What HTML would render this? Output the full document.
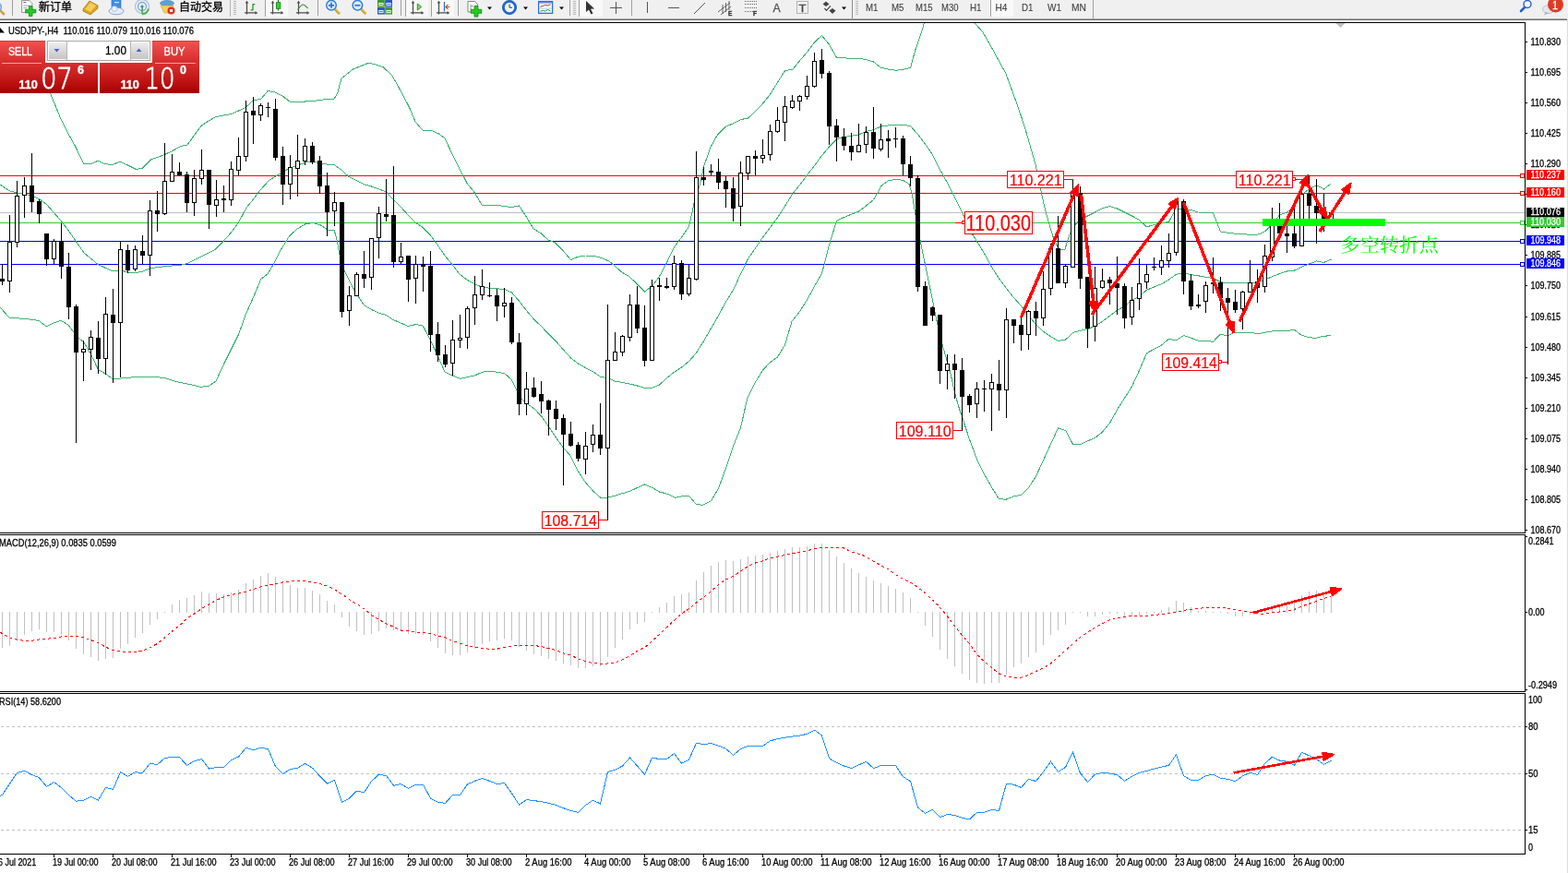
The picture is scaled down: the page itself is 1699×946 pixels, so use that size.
<!DOCTYPE html>
<html lang="zh"><head><meta charset="utf-8"><title>USDJPY H4</title>
<style>html,body{margin:0;padding:0;background:#fff;overflow:hidden}svg{display:block}text{white-space:pre}</style></head>
<body>
<svg width="1699" height="946" viewBox="0 0 1699 946" font-family='"Liberation Sans","Noto Sans CJK SC",sans-serif' shape-rendering="crispEdges">
<defs><clipPath id="cm"><rect x="0" y="25" width="1652" height="552"/></clipPath><clipPath id="cd"><rect x="0" y="580" width="1652" height="169"/></clipPath><clipPath id="cr"><rect x="0" y="752" width="1652" height="173"/></clipPath><linearGradient id="gs" x1="0" y1="0" x2="0" y2="1"><stop offset="0" stop-color="#f35252"/><stop offset="1" stop-color="#d42a2a"/></linearGradient><linearGradient id="gp" x1="0" y1="0" x2="0" y2="1"><stop offset="0" stop-color="#d83030"/><stop offset="0.6" stop-color="#bf1414"/><stop offset="1" stop-color="#a60000"/></linearGradient><linearGradient id="gb" x1="0" y1="0" x2="0" y2="1"><stop offset="0" stop-color="#eeeeee"/><stop offset="1" stop-color="#c4c4c4"/></linearGradient></defs>
<rect x="0" y="0" width="1699" height="946" fill="#fff" />
<rect x="0" y="24" width="1653" height="1" fill="#000" />
<rect x="1652" y="24" width="1" height="554" fill="#000" />
<rect x="0" y="577" width="1653" height="1" fill="#000" />
<rect x="0" y="579" width="1653" height="1" fill="#000" />
<rect x="1652" y="579" width="1" height="171" fill="#000" />
<rect x="0" y="749" width="1653" height="1" fill="#000" />
<rect x="0" y="751" width="1653" height="1" fill="#000" />
<rect x="1652" y="751" width="1" height="175" fill="#000" />
<rect x="0" y="925" width="1653" height="1" fill="#000" />
<rect x="1697" y="22" width="1" height="924" fill="#fbfbfb" />
<rect x="1698" y="21" width="1" height="925" fill="#dedede" />
<rect x="0" y="230" width="1652" height="1" fill="#c0c0c0" />
<rect x="0" y="190" width="1652" height="1" fill="#ff0000" />
<rect x="0" y="209" width="1652" height="1" fill="#ff0000" />
<rect x="0" y="241" width="1652" height="1" fill="#32cd32" />
<rect x="0" y="261" width="1652" height="1" fill="#0000ff" />
<rect x="0" y="286" width="1652" height="1" fill="#0000ff" />
<g clip-path="url(#cm)">
<polyline points="40,60 55.3,103 65.4,127.7 74.2,145.3 81.8,159 90.6,177.4 99.4,177.4 106.3,174.2 113.2,177.4 121.4,178.6 130.2,175.2 138.5,179 147.2,183.4 154,182.4 163.5,173 170.5,170.5 178.6,167.5 186.5,163.6 196,158.5 203,157 210.5,146.5 218.5,136 226,131 234,126.5 242,125 250.5,123.5 258.5,120 266,116.5 274,109.3 283,107 290,98.5 298,100 306,104 314,110 330.5,110 340,109.5 351.6,107.8 362,107.4 366,100 370,85 382.5,75 400,68 415,72.5 425,82 435.3,100.5 443.8,117 450,131.8 458,141.3 467,141.3 475.6,145 482,149.8 490.4,167.8 499,184.7 506,198.5 513.7,208 522,222 537,222 543,223 554,224.6 562.5,223 570,234.5 578,248 585.8,252.5 594,260 601.6,263 610,271.6 618.6,281.6 626,278.4 634.5,277 643,277 651.4,279.5 660,283 666,288 673.7,295 681,299 688.5,306 698.4,316 706.5,310.2 714.5,299.6 722.4,284.7 730.4,267.8 738.5,257.2 746.5,245.5 751,225.4 753,215 758.4,199.5 762.6,180.4 770,159.2 777.5,146 786,137.4 794.4,133.8 802.5,129.6 810.7,128 818.8,120 826.2,112.6 834.4,102.5 842.5,89.3 850.5,76.6 859,75 866.4,66 874.5,56.5 882.5,45.9 890.4,38.5 898.4,48 906.5,62.4 914.5,62.8 922.4,63.5 930.4,63.5 938.5,64.5 946.5,67 954.6,73.4 962.4,75 970.5,76.2 978.5,75.5 986.6,73.4 991.4,55.4 1000,30 1004,15 1020,-40 1040,-40 1052,15 1056.2,25 1065,35 1075,52.5 1082.5,66.2 1090,80 1095,93.7 1100,107.5 1106.2,125 1112.5,145 1117.5,162.5 1122.5,180 1127.5,205 1132.5,227.5 1137.5,245 1141,256.5 1147,270 1154,270 1157.7,257.5 1162.5,246 1170.5,238 1178.5,234 1186.5,230 1194.4,225.7 1202.4,223.6 1210.5,226 1218.5,230 1226.6,234 1234.4,238.4 1242.5,245.8 1250.5,243.7 1258.4,241.6 1266.4,240.5 1274.4,225.7 1282.5,226.7 1290.6,227.4 1298.4,230 1306.4,230.5 1314.5,231 1322.5,251 1330.4,252.2 1338.4,253.2 1346.5,253.6 1354.5,254.3 1362.6,254.3 1370.4,251 1377,244.7 1386.5,233 1394.5,230 1402.6,223.6 1410.4,210.8 1418.4,205 1426.5,200.7 1434.5,205 1442.4,198.8" fill="none" stroke="#3cb371" stroke-width="1" />
<polyline points="0,200 10.6,207 19,209 35,212 42.4,215.5 51,222 66.7,240 74.6,250.4 91,274 106,286.4 122,294 130,293 139,295 146,296 154.7,294 163,290.7 179,288.6 197,287 203.4,285.4 218,278 233,270.6 241.5,262 250,252.5 258.5,241 267,225 274,216.5 282,206 292,195 299,191 307,186 314.6,181.6 322,179.5 330.5,176 339,175 347.5,177 354,178 362,178.4 369.7,184 378,191.5 386.6,195.8 394.7,200 402.5,202 411,205 418.4,208 426.4,216.5 434,224 442,232.8 450,241 457.6,246 467,255.7 474.5,266 482,277 490.4,287 497.8,297 506.3,303.3 514.4,308 522,311 530.7,312.2 539,312.8 546.6,313.5 554.4,317 562.5,326.2 571,337.2 578.3,345.7 586.8,354 594.2,361.6 602.7,370 610,378.5 618.6,388 627,394.4 634.5,398.6 643,403 650.4,408.2 659,409.7 666.3,413 674.7,414.5 683.2,416.2 691.7,418.3 698.4,420.3 706.5,420.3 714.5,417 722.4,409.7 730.4,403.3 738.5,398 746.5,391.5 754.6,382.2 762.6,369.5 770.5,355.7 778.5,342 786.6,327 794.4,314.4 802.5,297 810.5,280.5 818.6,268.9 826.4,257.2 834.4,246.6 842.5,236 850.6,223.3 858.4,210.6 866.4,200.5 874.5,190 882.5,179.4 890.4,168.8 898.4,159.2 906.5,150.8 914.5,148.6 922.4,147.2 930.4,146 938.5,142.3 946.5,140.8 954.6,137 962.4,136 970.5,135.3 978.5,135.3 986.6,136.6 994.4,145.5 1002.5,156 1010.5,167.7 1019,184.7 1026.4,198 1034.4,214 1042.5,230 1050.5,249 1058.6,261.7 1066.4,274.4 1074.4,289.2 1082.5,302 1090.5,312.5 1098.4,322.5 1106.4,331.5 1114.5,341.7 1122.5,351.8 1130.4,359.2 1138.4,364.6 1146.5,369.3 1154.5,368.2 1162.4,360.4 1170.4,358.3 1178.5,356.5 1186.5,353.5 1194.4,348.4 1202.4,342.3 1210.5,336.4 1218.5,331.5 1226.6,325.3 1234.4,321.1 1242.5,314.2 1250.5,311 1258.4,307.8 1266.4,303.1 1274.4,297.3 1282.5,295.6 1290.6,297.7 1298.4,298.8 1306.4,300.3 1314.5,301.5 1322.5,305.5 1330.4,307 1338.4,306.8 1346.5,307 1354.5,306.6 1362.6,305.7 1370.5,303.2 1378.4,299.8 1386.5,296.6 1394.5,294 1402.6,293 1410.4,289.2 1418.4,286 1426.5,282.9 1434.5,284.4 1442.4,281.2" fill="none" stroke="#3cb371" stroke-width="1" />
<polyline points="0,333 10,344 21,345 32,346 42,347.4 50.4,354 58,350 66,347.4 74,352 79.5,359.5 86,367 91,371 98.5,384 106.6,400.8 114.4,405 122.5,411 131,410 142,409 150.4,408 165,408 180,410 190.7,413.5 203.4,416 218,419.4 226.7,418 234,413 242.6,394.4 250,379.6 258.5,362.6 266,341.4 274.4,322.4 283,302 290,297 295.6,287.5 305,269.5 313.6,255.7 322,248 330.5,243 339,241.5 347.5,244 355,249 362,249 365.4,261 367.5,273.7 370.7,288.5 374,295 378,303.3 386.6,319.2 394.7,330.8 402.5,335.5 410.6,339.3 418.4,341.4 426.4,346.7 434.3,350 442.3,353.5 450.2,351.6 458.2,353 466.5,369 474.5,386 482,402.9 490.4,407 498.5,410.3 506.5,408.6 514.4,407 522.2,403.3 530.7,402.2 539,403.3 546.6,404.6 554.4,411.4 559.3,422 564.6,431.6 571,437.4 578.3,442.5 586.8,451.2 594.2,461.8 602.7,474.5 610,484.7 617.5,493.2 626,510 634.5,523 643,532.4 650.4,539 659,539 666.3,537.3 674.7,534.5 682,532.6 691.7,528 698.4,525 706.5,528.3 714.5,533 722.4,535 732,539.3 738.5,537.8 746.5,537.2 754,546.3 761.6,547.4 770.5,542.7 778.5,529.4 786.6,507 794.4,483.8 802.5,463.7 807,443.6 809.7,432 818.6,414 826.4,401.2 834.4,392.7 842.5,387 850.6,373.7 858,348.3 866.4,337.7 874.5,325 882.5,310.2 890.4,296.4 893.3,285.8 898.4,265.7 906.5,239.2 914.5,235.6 922.4,232.2 930.4,229.2 938.5,222.9 946.5,216.5 951.2,208.3 954.6,201.8 962.4,195.9 970.5,194.2 978.5,195.3 985,199.5 988.3,210.3 991.4,229.7 994.4,246.6 997.8,263.6 1002.5,286.9 1007.3,310.2 1010.5,325 1014.7,346.2 1018.5,363 1022,377 1026.4,392 1029.6,403 1034.4,425 1038.5,440 1042.5,451.8 1050.3,475.5 1058.5,497.7 1066.6,514 1074.5,528 1082.2,540.3 1089.6,541.4 1098.4,538 1106.6,536.2 1114.7,528.4 1122,517 1130.3,499.2 1138.4,481.4 1146.5,464 1154.7,466.6 1162.5,481.4 1171,481.4 1179,477.7 1187.2,474 1194.6,468 1202.8,457.8 1210.5,444 1218.5,431.4 1226.6,418.6 1234.4,401.7 1242.5,382.6 1250.5,378.4 1258.4,374.2 1266.4,367.4 1274.4,368.9 1282.5,363.6 1290.6,366.3 1298.4,369.3 1306.4,369.3 1314.5,370.3 1322.2,362.3 1330.2,363.9 1337,360.7 1346.5,360.5 1358.3,360.5 1359.9,361.5 1365.7,361.3 1374,359.7 1382,358.4 1397.5,358.4 1399,357.5 1402.8,357.5 1410.2,363.4 1417.6,365.3 1425,366.5 1432.4,364.7 1442,363.4" fill="none" stroke="#3cb371" stroke-width="1" />
</g>
<g clip-path="url(#cm)">
<rect x="2" y="286" width="1" height="23" fill="#000" />
<rect x="0" y="302" width="5" height="3" fill="#000" />
<rect x="10" y="233" width="1" height="84" fill="#000" />
<rect x="8" y="262" width="5" height="43" fill="#000" />
<rect x="9" y="263" width="3" height="41" fill="#fff" />
<rect x="18" y="196" width="1" height="72" fill="#000" />
<rect x="16" y="212" width="5" height="51" fill="#000" />
<rect x="17" y="213" width="3" height="49" fill="#fff" />
<rect x="26" y="192" width="1" height="44" fill="#000" />
<rect x="24" y="201" width="5" height="11" fill="#000" />
<rect x="25" y="202" width="3" height="9" fill="#fff" />
<rect x="34" y="166" width="1" height="64" fill="#000" />
<rect x="32" y="201" width="5" height="18" fill="#000" />
<rect x="42" y="216" width="1" height="26" fill="#000" />
<rect x="40" y="218" width="5" height="14" fill="#000" />
<rect x="50" y="253" width="1" height="35" fill="#000" />
<rect x="48" y="253" width="5" height="28" fill="#000" />
<rect x="58" y="259" width="1" height="27" fill="#000" />
<rect x="56" y="261" width="5" height="20" fill="#000" />
<rect x="57" y="262" width="3" height="18" fill="#fff" />
<rect x="66" y="242" width="1" height="60" fill="#000" />
<rect x="64" y="261" width="5" height="28" fill="#000" />
<rect x="74" y="274" width="1" height="72" fill="#000" />
<rect x="72" y="289" width="5" height="44" fill="#000" />
<rect x="82" y="330" width="1" height="150" fill="#000" />
<rect x="80" y="332" width="5" height="50" fill="#000" />
<rect x="90" y="369" width="1" height="44" fill="#000" />
<rect x="88" y="378" width="5" height="4" fill="#000" />
<rect x="89" y="379" width="3" height="2" fill="#fff" />
<rect x="98" y="358" width="1" height="43" fill="#000" />
<rect x="96" y="365" width="5" height="14" fill="#000" />
<rect x="97" y="366" width="3" height="12" fill="#fff" />
<rect x="106" y="348" width="1" height="57" fill="#000" />
<rect x="104" y="366" width="5" height="23" fill="#000" />
<rect x="114" y="322" width="1" height="84" fill="#000" />
<rect x="112" y="340" width="5" height="49" fill="#000" />
<rect x="113" y="341" width="3" height="47" fill="#fff" />
<rect x="122" y="313" width="1" height="102" fill="#000" />
<rect x="120" y="341" width="5" height="9" fill="#000" />
<rect x="130" y="261" width="1" height="148" fill="#000" />
<rect x="128" y="270" width="5" height="80" fill="#000" />
<rect x="129" y="271" width="3" height="78" fill="#fff" />
<rect x="138" y="265" width="1" height="31" fill="#000" />
<rect x="136" y="271" width="5" height="22" fill="#000" />
<rect x="146" y="266" width="1" height="28" fill="#000" />
<rect x="144" y="270" width="5" height="22" fill="#000" />
<rect x="145" y="271" width="3" height="20" fill="#fff" />
<rect x="154" y="255" width="1" height="31" fill="#000" />
<rect x="152" y="272" width="5" height="5" fill="#000" />
<rect x="162" y="217" width="1" height="82" fill="#000" />
<rect x="160" y="228" width="5" height="49" fill="#000" />
<rect x="161" y="229" width="3" height="47" fill="#fff" />
<rect x="170" y="207" width="1" height="44" fill="#000" />
<rect x="168" y="228" width="5" height="4" fill="#000" />
<rect x="178" y="155" width="1" height="78" fill="#000" />
<rect x="176" y="196" width="5" height="36" fill="#000" />
<rect x="177" y="197" width="3" height="34" fill="#fff" />
<rect x="186" y="167" width="1" height="30" fill="#000" />
<rect x="184" y="186" width="5" height="11" fill="#000" />
<rect x="185" y="187" width="3" height="9" fill="#fff" />
<rect x="194" y="176" width="1" height="15" fill="#000" />
<rect x="192" y="186" width="5" height="4" fill="#000" />
<rect x="202" y="186" width="1" height="44" fill="#000" />
<rect x="200" y="189" width="5" height="31" fill="#000" />
<rect x="210" y="184" width="1" height="50" fill="#000" />
<rect x="208" y="193" width="5" height="27" fill="#000" />
<rect x="209" y="194" width="3" height="25" fill="#fff" />
<rect x="218" y="162" width="1" height="38" fill="#000" />
<rect x="216" y="184" width="5" height="10" fill="#000" />
<rect x="217" y="185" width="3" height="8" fill="#fff" />
<rect x="226" y="184" width="1" height="64" fill="#000" />
<rect x="224" y="184" width="5" height="38" fill="#000" />
<rect x="234" y="195" width="1" height="40" fill="#000" />
<rect x="232" y="216" width="5" height="7" fill="#000" />
<rect x="233" y="217" width="3" height="5" fill="#fff" />
<rect x="242" y="201" width="1" height="29" fill="#000" />
<rect x="240" y="215" width="5" height="2" fill="#000" />
<rect x="250" y="175" width="1" height="48" fill="#000" />
<rect x="248" y="183" width="5" height="34" fill="#000" />
<rect x="249" y="184" width="3" height="32" fill="#fff" />
<rect x="258" y="149" width="1" height="41" fill="#000" />
<rect x="256" y="169" width="5" height="16" fill="#000" />
<rect x="257" y="170" width="3" height="14" fill="#fff" />
<rect x="266" y="109" width="1" height="66" fill="#000" />
<rect x="264" y="121" width="5" height="49" fill="#000" />
<rect x="265" y="122" width="3" height="47" fill="#fff" />
<rect x="274" y="105" width="1" height="51" fill="#000" />
<rect x="272" y="120" width="5" height="5" fill="#000" />
<rect x="282" y="112" width="1" height="19" fill="#000" />
<rect x="280" y="114" width="5" height="11" fill="#000" />
<rect x="281" y="115" width="3" height="9" fill="#fff" />
<rect x="290" y="111" width="1" height="16" fill="#000" />
<rect x="288" y="116" width="5" height="1" fill="#000" />
<rect x="298" y="107" width="1" height="67" fill="#000" />
<rect x="296" y="118" width="5" height="53" fill="#000" />
<rect x="306" y="159" width="1" height="63" fill="#000" />
<rect x="304" y="169" width="5" height="31" fill="#000" />
<rect x="314" y="168" width="1" height="48" fill="#000" />
<rect x="312" y="181" width="5" height="19" fill="#000" />
<rect x="313" y="182" width="3" height="17" fill="#fff" />
<rect x="322" y="146" width="1" height="67" fill="#000" />
<rect x="320" y="174" width="5" height="9" fill="#000" />
<rect x="321" y="175" width="3" height="7" fill="#fff" />
<rect x="330" y="150" width="1" height="29" fill="#000" />
<rect x="328" y="158" width="5" height="17" fill="#000" />
<rect x="329" y="159" width="3" height="15" fill="#fff" />
<rect x="338" y="154" width="1" height="24" fill="#000" />
<rect x="336" y="158" width="5" height="18" fill="#000" />
<rect x="346" y="169" width="1" height="41" fill="#000" />
<rect x="344" y="174" width="5" height="28" fill="#000" />
<rect x="354" y="187" width="1" height="69" fill="#000" />
<rect x="352" y="201" width="5" height="29" fill="#000" />
<rect x="362" y="208" width="1" height="37" fill="#000" />
<rect x="360" y="219" width="5" height="10" fill="#000" />
<rect x="361" y="220" width="3" height="8" fill="#fff" />
<rect x="370" y="219" width="1" height="125" fill="#000" />
<rect x="368" y="219" width="5" height="119" fill="#000" />
<rect x="378" y="310" width="1" height="43" fill="#000" />
<rect x="376" y="320" width="5" height="17" fill="#000" />
<rect x="377" y="321" width="3" height="15" fill="#fff" />
<rect x="386" y="295" width="1" height="26" fill="#000" />
<rect x="384" y="297" width="5" height="24" fill="#000" />
<rect x="385" y="298" width="3" height="22" fill="#fff" />
<rect x="394" y="272" width="1" height="40" fill="#000" />
<rect x="392" y="297" width="5" height="5" fill="#000" />
<rect x="402" y="258" width="1" height="56" fill="#000" />
<rect x="400" y="258" width="5" height="43" fill="#000" />
<rect x="401" y="259" width="3" height="41" fill="#fff" />
<rect x="410" y="224" width="1" height="56" fill="#000" />
<rect x="408" y="231" width="5" height="27" fill="#000" />
<rect x="409" y="232" width="3" height="25" fill="#fff" />
<rect x="418" y="194" width="1" height="46" fill="#000" />
<rect x="416" y="232" width="5" height="3" fill="#000" />
<rect x="426" y="180" width="1" height="110" fill="#000" />
<rect x="424" y="233" width="5" height="51" fill="#000" />
<rect x="434" y="263" width="1" height="23" fill="#000" />
<rect x="432" y="278" width="5" height="6" fill="#000" />
<rect x="433" y="279" width="3" height="4" fill="#fff" />
<rect x="442" y="277" width="1" height="50" fill="#000" />
<rect x="440" y="277" width="5" height="26" fill="#000" />
<rect x="450" y="277" width="1" height="52" fill="#000" />
<rect x="448" y="286" width="5" height="16" fill="#000" />
<rect x="449" y="287" width="3" height="14" fill="#fff" />
<rect x="458" y="278" width="1" height="38" fill="#000" />
<rect x="456" y="286" width="5" height="3" fill="#000" />
<rect x="466" y="272" width="1" height="109" fill="#000" />
<rect x="464" y="288" width="5" height="75" fill="#000" />
<rect x="474" y="349" width="1" height="43" fill="#000" />
<rect x="472" y="362" width="5" height="23" fill="#000" />
<rect x="482" y="374" width="1" height="24" fill="#000" />
<rect x="480" y="384" width="5" height="11" fill="#000" />
<rect x="490" y="347" width="1" height="60" fill="#000" />
<rect x="488" y="368" width="5" height="26" fill="#000" />
<rect x="489" y="369" width="3" height="24" fill="#fff" />
<rect x="498" y="341" width="1" height="36" fill="#000" />
<rect x="496" y="366" width="5" height="3" fill="#000" />
<rect x="497" y="367" width="3" height="1" fill="#fff" />
<rect x="506" y="332" width="1" height="46" fill="#000" />
<rect x="504" y="334" width="5" height="32" fill="#000" />
<rect x="505" y="335" width="3" height="30" fill="#fff" />
<rect x="514" y="299" width="1" height="53" fill="#000" />
<rect x="512" y="319" width="5" height="15" fill="#000" />
<rect x="513" y="320" width="3" height="13" fill="#fff" />
<rect x="522" y="292" width="1" height="33" fill="#000" />
<rect x="520" y="310" width="5" height="10" fill="#000" />
<rect x="521" y="311" width="3" height="8" fill="#fff" />
<rect x="530" y="306" width="1" height="16" fill="#000" />
<rect x="528" y="320" width="5" height="1" fill="#000" />
<rect x="538" y="313" width="1" height="35" fill="#000" />
<rect x="536" y="320" width="5" height="12" fill="#000" />
<rect x="546" y="312" width="1" height="32" fill="#000" />
<rect x="544" y="328" width="5" height="4" fill="#000" />
<rect x="545" y="329" width="3" height="2" fill="#fff" />
<rect x="554" y="322" width="1" height="51" fill="#000" />
<rect x="552" y="328" width="5" height="43" fill="#000" />
<rect x="562" y="361" width="1" height="89" fill="#000" />
<rect x="560" y="371" width="5" height="67" fill="#000" />
<rect x="570" y="403" width="1" height="47" fill="#000" />
<rect x="568" y="421" width="5" height="17" fill="#000" />
<rect x="569" y="422" width="3" height="15" fill="#fff" />
<rect x="578" y="409" width="1" height="22" fill="#000" />
<rect x="576" y="420" width="5" height="10" fill="#000" />
<rect x="586" y="413" width="1" height="35" fill="#000" />
<rect x="584" y="427" width="5" height="8" fill="#000" />
<rect x="594" y="433" width="1" height="39" fill="#000" />
<rect x="592" y="434" width="5" height="10" fill="#000" />
<rect x="602" y="434" width="1" height="32" fill="#000" />
<rect x="600" y="443" width="5" height="11" fill="#000" />
<rect x="610" y="449" width="1" height="77" fill="#000" />
<rect x="608" y="453" width="5" height="18" fill="#000" />
<rect x="618" y="457" width="1" height="27" fill="#000" />
<rect x="616" y="470" width="5" height="13" fill="#000" />
<rect x="626" y="479" width="1" height="21" fill="#000" />
<rect x="624" y="482" width="5" height="15" fill="#000" />
<rect x="634" y="468" width="1" height="46" fill="#000" />
<rect x="632" y="483" width="5" height="15" fill="#000" />
<rect x="633" y="484" width="3" height="13" fill="#fff" />
<rect x="642" y="460" width="1" height="30" fill="#000" />
<rect x="640" y="471" width="5" height="11" fill="#000" />
<rect x="641" y="472" width="3" height="9" fill="#fff" />
<rect x="650" y="437" width="1" height="56" fill="#000" />
<rect x="648" y="471" width="5" height="15" fill="#000" />
<rect x="658" y="330" width="1" height="234" fill="#000" />
<rect x="656" y="390" width="5" height="96" fill="#000" />
<rect x="657" y="391" width="3" height="94" fill="#fff" />
<rect x="666" y="360" width="1" height="31" fill="#000" />
<rect x="664" y="381" width="5" height="10" fill="#000" />
<rect x="665" y="382" width="3" height="8" fill="#fff" />
<rect x="674" y="363" width="1" height="23" fill="#000" />
<rect x="672" y="364" width="5" height="18" fill="#000" />
<rect x="673" y="365" width="3" height="16" fill="#fff" />
<rect x="682" y="319" width="1" height="51" fill="#000" />
<rect x="680" y="330" width="5" height="36" fill="#000" />
<rect x="681" y="331" width="3" height="34" fill="#fff" />
<rect x="690" y="310" width="1" height="51" fill="#000" />
<rect x="688" y="330" width="5" height="26" fill="#000" />
<rect x="698" y="331" width="1" height="66" fill="#000" />
<rect x="696" y="355" width="5" height="36" fill="#000" />
<rect x="706" y="303" width="1" height="88" fill="#000" />
<rect x="704" y="310" width="5" height="81" fill="#000" />
<rect x="705" y="311" width="3" height="79" fill="#fff" />
<rect x="714" y="301" width="1" height="25" fill="#000" />
<rect x="712" y="309" width="5" height="2" fill="#000" />
<rect x="722" y="301" width="1" height="12" fill="#000" />
<rect x="720" y="310" width="5" height="2" fill="#000" />
<rect x="730" y="277" width="1" height="37" fill="#000" />
<rect x="728" y="285" width="5" height="26" fill="#000" />
<rect x="729" y="286" width="3" height="24" fill="#fff" />
<rect x="738" y="282" width="1" height="43" fill="#000" />
<rect x="736" y="285" width="5" height="34" fill="#000" />
<rect x="746" y="287" width="1" height="34" fill="#000" />
<rect x="744" y="301" width="5" height="18" fill="#000" />
<rect x="745" y="302" width="3" height="16" fill="#fff" />
<rect x="754" y="164" width="1" height="140" fill="#000" />
<rect x="752" y="192" width="5" height="111" fill="#000" />
<rect x="753" y="193" width="3" height="109" fill="#fff" />
<rect x="762" y="181" width="1" height="20" fill="#000" />
<rect x="760" y="192" width="5" height="3" fill="#000" />
<rect x="770" y="178" width="1" height="12" fill="#000" />
<rect x="768" y="185" width="5" height="2" fill="#000" />
<rect x="778" y="172" width="1" height="33" fill="#000" />
<rect x="776" y="186" width="5" height="12" fill="#000" />
<rect x="786" y="191" width="1" height="34" fill="#000" />
<rect x="784" y="196" width="5" height="9" fill="#000" />
<rect x="794" y="192" width="1" height="48" fill="#000" />
<rect x="792" y="204" width="5" height="22" fill="#000" />
<rect x="802" y="175" width="1" height="70" fill="#000" />
<rect x="800" y="187" width="5" height="37" fill="#000" />
<rect x="801" y="188" width="3" height="35" fill="#fff" />
<rect x="810" y="169" width="1" height="26" fill="#000" />
<rect x="808" y="169" width="5" height="19" fill="#000" />
<rect x="809" y="170" width="3" height="17" fill="#fff" />
<rect x="818" y="163" width="1" height="27" fill="#000" />
<rect x="816" y="169" width="5" height="3" fill="#000" />
<rect x="826" y="151" width="1" height="26" fill="#000" />
<rect x="824" y="168" width="5" height="4" fill="#000" />
<rect x="825" y="169" width="3" height="2" fill="#fff" />
<rect x="834" y="135" width="1" height="39" fill="#000" />
<rect x="832" y="142" width="5" height="26" fill="#000" />
<rect x="833" y="143" width="3" height="24" fill="#fff" />
<rect x="842" y="116" width="1" height="28" fill="#000" />
<rect x="840" y="130" width="5" height="13" fill="#000" />
<rect x="841" y="131" width="3" height="11" fill="#fff" />
<rect x="850" y="104" width="1" height="49" fill="#000" />
<rect x="848" y="115" width="5" height="18" fill="#000" />
<rect x="849" y="116" width="3" height="16" fill="#fff" />
<rect x="858" y="103" width="1" height="15" fill="#000" />
<rect x="856" y="109" width="5" height="8" fill="#000" />
<rect x="857" y="110" width="3" height="6" fill="#fff" />
<rect x="866" y="103" width="1" height="17" fill="#000" />
<rect x="864" y="104" width="5" height="6" fill="#000" />
<rect x="865" y="105" width="3" height="4" fill="#fff" />
<rect x="874" y="82" width="1" height="26" fill="#000" />
<rect x="872" y="93" width="5" height="12" fill="#000" />
<rect x="873" y="94" width="3" height="10" fill="#fff" />
<rect x="882" y="57" width="1" height="38" fill="#000" />
<rect x="880" y="66" width="5" height="28" fill="#000" />
<rect x="881" y="67" width="3" height="26" fill="#fff" />
<rect x="890" y="53" width="1" height="32" fill="#000" />
<rect x="888" y="65" width="5" height="15" fill="#000" />
<rect x="898" y="77" width="1" height="80" fill="#000" />
<rect x="896" y="79" width="5" height="58" fill="#000" />
<rect x="906" y="129" width="1" height="46" fill="#000" />
<rect x="904" y="136" width="5" height="13" fill="#000" />
<rect x="914" y="139" width="1" height="24" fill="#000" />
<rect x="912" y="148" width="5" height="10" fill="#000" />
<rect x="922" y="144" width="1" height="30" fill="#000" />
<rect x="920" y="158" width="5" height="7" fill="#000" />
<rect x="930" y="134" width="1" height="31" fill="#000" />
<rect x="928" y="157" width="5" height="8" fill="#000" />
<rect x="929" y="158" width="3" height="6" fill="#fff" />
<rect x="938" y="137" width="1" height="29" fill="#000" />
<rect x="936" y="143" width="5" height="14" fill="#000" />
<rect x="937" y="144" width="3" height="12" fill="#fff" />
<rect x="946" y="116" width="1" height="56" fill="#000" />
<rect x="944" y="143" width="5" height="18" fill="#000" />
<rect x="954" y="134" width="1" height="30" fill="#000" />
<rect x="952" y="151" width="5" height="11" fill="#000" />
<rect x="953" y="152" width="3" height="9" fill="#fff" />
<rect x="962" y="141" width="1" height="30" fill="#000" />
<rect x="960" y="150" width="5" height="3" fill="#000" />
<rect x="970" y="138" width="1" height="22" fill="#000" />
<rect x="968" y="150" width="5" height="1" fill="#000" />
<rect x="978" y="147" width="1" height="43" fill="#000" />
<rect x="976" y="150" width="5" height="28" fill="#000" />
<rect x="986" y="169" width="1" height="33" fill="#000" />
<rect x="984" y="178" width="5" height="15" fill="#000" />
<rect x="994" y="190" width="1" height="126" fill="#000" />
<rect x="992" y="193" width="5" height="118" fill="#000" />
<rect x="1002" y="305" width="1" height="48" fill="#000" />
<rect x="1000" y="310" width="5" height="43" fill="#000" />
<rect x="1010" y="332" width="1" height="16" fill="#000" />
<rect x="1008" y="333" width="5" height="9" fill="#000" />
<rect x="1018" y="341" width="1" height="75" fill="#000" />
<rect x="1016" y="341" width="5" height="61" fill="#000" />
<rect x="1026" y="384" width="1" height="38" fill="#000" />
<rect x="1024" y="394" width="5" height="8" fill="#000" />
<rect x="1025" y="395" width="3" height="6" fill="#fff" />
<rect x="1034" y="384" width="1" height="48" fill="#000" />
<rect x="1032" y="394" width="5" height="7" fill="#000" />
<rect x="1042" y="388" width="1" height="79" fill="#000" />
<rect x="1040" y="401" width="5" height="29" fill="#000" />
<rect x="1050" y="427" width="1" height="20" fill="#000" />
<rect x="1048" y="429" width="5" height="10" fill="#000" />
<rect x="1058" y="414" width="1" height="39" fill="#000" />
<rect x="1056" y="421" width="5" height="17" fill="#000" />
<rect x="1057" y="422" width="3" height="15" fill="#fff" />
<rect x="1066" y="412" width="1" height="34" fill="#000" />
<rect x="1064" y="421" width="5" height="1" fill="#000" />
<rect x="1074" y="405" width="1" height="62" fill="#000" />
<rect x="1072" y="414" width="5" height="8" fill="#000" />
<rect x="1073" y="415" width="3" height="6" fill="#fff" />
<rect x="1082" y="390" width="1" height="55" fill="#000" />
<rect x="1080" y="416" width="5" height="7" fill="#000" />
<rect x="1090" y="334" width="1" height="119" fill="#000" />
<rect x="1088" y="346" width="5" height="77" fill="#000" />
<rect x="1089" y="347" width="3" height="75" fill="#fff" />
<rect x="1098" y="346" width="1" height="26" fill="#000" />
<rect x="1096" y="346" width="5" height="7" fill="#000" />
<rect x="1106" y="342" width="1" height="38" fill="#000" />
<rect x="1104" y="352" width="5" height="11" fill="#000" />
<rect x="1114" y="336" width="1" height="43" fill="#000" />
<rect x="1112" y="337" width="5" height="26" fill="#000" />
<rect x="1113" y="338" width="3" height="24" fill="#fff" />
<rect x="1122" y="327" width="1" height="37" fill="#000" />
<rect x="1120" y="337" width="5" height="8" fill="#000" />
<rect x="1130" y="294" width="1" height="59" fill="#000" />
<rect x="1128" y="313" width="5" height="32" fill="#000" />
<rect x="1129" y="314" width="3" height="30" fill="#fff" />
<rect x="1138" y="264" width="1" height="56" fill="#000" />
<rect x="1136" y="269" width="5" height="44" fill="#000" />
<rect x="1137" y="270" width="3" height="42" fill="#fff" />
<rect x="1146" y="234" width="1" height="73" fill="#000" />
<rect x="1144" y="269" width="5" height="38" fill="#000" />
<rect x="1154" y="287" width="1" height="25" fill="#000" />
<rect x="1152" y="288" width="5" height="19" fill="#000" />
<rect x="1153" y="289" width="3" height="17" fill="#fff" />
<rect x="1162" y="194" width="1" height="96" fill="#000" />
<rect x="1160" y="207" width="5" height="83" fill="#000" />
<rect x="1161" y="208" width="3" height="81" fill="#fff" />
<rect x="1170" y="202" width="1" height="111" fill="#000" />
<rect x="1168" y="209" width="5" height="93" fill="#000" />
<rect x="1178" y="300" width="1" height="77" fill="#000" />
<rect x="1176" y="300" width="5" height="56" fill="#000" />
<rect x="1186" y="289" width="1" height="81" fill="#000" />
<rect x="1184" y="312" width="5" height="42" fill="#000" />
<rect x="1185" y="313" width="3" height="40" fill="#fff" />
<rect x="1194" y="291" width="1" height="22" fill="#000" />
<rect x="1192" y="304" width="5" height="8" fill="#000" />
<rect x="1193" y="305" width="3" height="6" fill="#fff" />
<rect x="1202" y="300" width="1" height="30" fill="#000" />
<rect x="1200" y="303" width="5" height="4" fill="#000" />
<rect x="1210" y="278" width="1" height="63" fill="#000" />
<rect x="1208" y="307" width="5" height="5" fill="#000" />
<rect x="1218" y="307" width="1" height="49" fill="#000" />
<rect x="1216" y="310" width="5" height="35" fill="#000" />
<rect x="1226" y="311" width="1" height="41" fill="#000" />
<rect x="1224" y="325" width="5" height="19" fill="#000" />
<rect x="1225" y="326" width="3" height="17" fill="#fff" />
<rect x="1234" y="280" width="1" height="56" fill="#000" />
<rect x="1232" y="307" width="5" height="17" fill="#000" />
<rect x="1233" y="308" width="3" height="15" fill="#fff" />
<rect x="1242" y="287" width="1" height="26" fill="#000" />
<rect x="1240" y="297" width="5" height="9" fill="#000" />
<rect x="1241" y="298" width="3" height="7" fill="#fff" />
<rect x="1250" y="279" width="1" height="14" fill="#000" />
<rect x="1248" y="289" width="5" height="1" fill="#000" />
<rect x="1258" y="266" width="1" height="32" fill="#000" />
<rect x="1256" y="282" width="5" height="8" fill="#000" />
<rect x="1257" y="283" width="3" height="6" fill="#fff" />
<rect x="1266" y="253" width="1" height="37" fill="#000" />
<rect x="1264" y="274" width="5" height="9" fill="#000" />
<rect x="1265" y="275" width="3" height="7" fill="#fff" />
<rect x="1274" y="216" width="1" height="61" fill="#000" />
<rect x="1272" y="218" width="5" height="56" fill="#000" />
<rect x="1273" y="219" width="3" height="54" fill="#fff" />
<rect x="1282" y="216" width="1" height="103" fill="#000" />
<rect x="1280" y="218" width="5" height="87" fill="#000" />
<rect x="1290" y="297" width="1" height="39" fill="#000" />
<rect x="1288" y="304" width="5" height="28" fill="#000" />
<rect x="1298" y="319" width="1" height="15" fill="#000" />
<rect x="1296" y="330" width="5" height="2" fill="#000" />
<rect x="1306" y="305" width="1" height="34" fill="#000" />
<rect x="1304" y="309" width="5" height="18" fill="#000" />
<rect x="1305" y="310" width="3" height="16" fill="#fff" />
<rect x="1314" y="279" width="1" height="39" fill="#000" />
<rect x="1312" y="306" width="5" height="2" fill="#000" />
<rect x="1322" y="300" width="1" height="37" fill="#000" />
<rect x="1320" y="306" width="5" height="17" fill="#000" />
<rect x="1330" y="312" width="1" height="83" fill="#000" />
<rect x="1328" y="323" width="5" height="5" fill="#000" />
<rect x="1338" y="314" width="1" height="25" fill="#000" />
<rect x="1336" y="327" width="5" height="9" fill="#000" />
<rect x="1346" y="315" width="1" height="42" fill="#000" />
<rect x="1344" y="316" width="5" height="19" fill="#000" />
<rect x="1345" y="317" width="3" height="17" fill="#fff" />
<rect x="1354" y="282" width="1" height="35" fill="#000" />
<rect x="1352" y="306" width="5" height="11" fill="#000" />
<rect x="1353" y="307" width="3" height="9" fill="#fff" />
<rect x="1362" y="292" width="1" height="36" fill="#000" />
<rect x="1360" y="305" width="5" height="7" fill="#000" />
<rect x="1370" y="265" width="1" height="52" fill="#000" />
<rect x="1368" y="277" width="5" height="34" fill="#000" />
<rect x="1369" y="278" width="3" height="32" fill="#fff" />
<rect x="1378" y="225" width="1" height="58" fill="#000" />
<rect x="1376" y="241" width="5" height="38" fill="#000" />
<rect x="1377" y="242" width="3" height="36" fill="#fff" />
<rect x="1386" y="220" width="1" height="33" fill="#000" />
<rect x="1384" y="243" width="5" height="10" fill="#000" />
<rect x="1394" y="245" width="1" height="29" fill="#000" />
<rect x="1392" y="253" width="5" height="3" fill="#000" />
<rect x="1402" y="226" width="1" height="43" fill="#000" />
<rect x="1400" y="253" width="5" height="14" fill="#000" />
<rect x="1410" y="197" width="1" height="70" fill="#000" />
<rect x="1408" y="210" width="5" height="57" fill="#000" />
<rect x="1409" y="211" width="3" height="55" fill="#fff" />
<rect x="1418" y="190" width="1" height="47" fill="#000" />
<rect x="1416" y="210" width="5" height="13" fill="#000" />
<rect x="1426" y="194" width="1" height="70" fill="#000" />
<rect x="1424" y="223" width="5" height="8" fill="#000" />
<rect x="1434" y="210" width="1" height="41" fill="#000" />
<rect x="1432" y="231" width="5" height="14" fill="#000" />
<rect x="1442" y="229" width="1" height="16" fill="#000" />
<rect x="1440" y="230" width="5" height="15" fill="#000" />
<rect x="1441" y="231" width="3" height="13" fill="#fff" />
</g>
<g clip-path="url(#cm)"><line x1="1430" y1="251" x2="1458.7" y2="206.2" stroke="#ff0000" stroke-width="3.5"/>
<polygon points="1463.6,198.6 1461.2,210.2 1454.1,205.6" fill="#ff0000" stroke="#ff0000" stroke-width="2" stroke-linejoin="round"/></g>
<rect x="1368" y="237" width="133" height="8" fill="#00ff00" />
<rect x="587" y="554" width="62" height="19" fill="#ff0000" />
<rect x="588" y="555" width="60" height="17" fill="#fff" />
<text x="589.7" y="569.5" font-size="16.6" fill="#ff0000" stroke="#ff0000" stroke-width="0.2" textLength="57" lengthAdjust="spacingAndGlyphs" >108.714</text>
<rect x="649" y="563" width="9" height="1" fill="#ff0000" />
<rect x="971" y="457" width="62" height="19" fill="#ff0000" />
<rect x="972" y="458" width="60" height="17" fill="#fff" />
<text x="973.7" y="472.5" font-size="16.6" fill="#ff0000" stroke="#ff0000" stroke-width="0.2" textLength="57" lengthAdjust="spacingAndGlyphs" >109.110</text>
<rect x="1033" y="466" width="9" height="1" fill="#ff0000" />
<rect x="1259" y="383" width="62" height="19" fill="#ff0000" />
<rect x="1260" y="384" width="60" height="17" fill="#fff" />
<text x="1261.7" y="398.5" font-size="16.6" fill="#ff0000" stroke="#ff0000" stroke-width="0.2" textLength="57" lengthAdjust="spacingAndGlyphs" >109.414</text>
<rect x="1321" y="392" width="9" height="1" fill="#ff0000" />
<rect x="1321" y="390" width="3" height="4" fill="#ff0000" />
<rect x="1321" y="391" width="2" height="2" fill="#fff" />
<rect x="1091" y="185" width="62" height="19" fill="#ff0000" />
<rect x="1092" y="186" width="60" height="17" fill="#fff" />
<text x="1093.7" y="200.5" font-size="16.6" fill="#ff0000" stroke="#ff0000" stroke-width="0.2" textLength="57" lengthAdjust="spacingAndGlyphs" >110.221</text>
<rect x="1153" y="194" width="10" height="1" fill="#ff0000" />
<rect x="1339" y="185" width="62" height="19" fill="#ff0000" />
<rect x="1340" y="186" width="60" height="17" fill="#fff" />
<text x="1341.7" y="200.5" font-size="16.6" fill="#ff0000" stroke="#ff0000" stroke-width="0.2" textLength="57" lengthAdjust="spacingAndGlyphs" >110.221</text>
<rect x="1401" y="194" width="13" height="1" fill="#ff0000" />
<rect x="1401" y="192" width="3" height="4" fill="#ff0000" />
<rect x="1401" y="193" width="2" height="2" fill="#fff" />
<rect x="1045" y="229" width="74" height="25" fill="#ff0000" />
<rect x="1046" y="230" width="72" height="23" fill="#fff" />
<text x="1046.5" y="250.2" font-size="23" fill="#ff0000" stroke="#ff0000" stroke-width="0.2" textLength="70.5" lengthAdjust="spacingAndGlyphs" >110.030</text>
<rect x="1035" y="241" width="10" height="1" fill="#ff0000" />
<rect x="1042" y="239" width="3" height="4" fill="#ff0000" />
<rect x="1043" y="240" width="2" height="2" fill="#fff" />
<g clip-path="url(#cm)"><line x1="1106.4" y1="343.9" x2="1164.7" y2="208.6" stroke="#ff0000" stroke-width="3.5"/>
<polygon points="1168.3,200.3 1167.8,212.1 1160.0,208.7" fill="#ff0000" stroke="#ff0000" stroke-width="2" stroke-linejoin="round"/></g>
<g clip-path="url(#cm)"><line x1="1171.5" y1="210.8" x2="1185.0" y2="329.1" stroke="#ff0000" stroke-width="3.5"/>
<polygon points="1186,338 1180.5,327.6 1189.0,326.6" fill="#ff0000" stroke="#ff0000" stroke-width="2" stroke-linejoin="round"/></g>
<g clip-path="url(#cm)"><line x1="1183" y1="341" x2="1271.0" y2="221.9" stroke="#ff0000" stroke-width="3.5"/>
<polygon points="1276.4,214.7 1273.3,226.1 1266.4,221.0" fill="#ff0000" stroke="#ff0000" stroke-width="2" stroke-linejoin="round"/></g>
<g clip-path="url(#cm)"><line x1="1282.3" y1="219.3" x2="1333.5" y2="352.0" stroke="#ff0000" stroke-width="3.5"/>
<polygon points="1336.7,360.4 1328.8,351.7 1336.7,348.6" fill="#ff0000" stroke="#ff0000" stroke-width="2" stroke-linejoin="round"/></g>
<g clip-path="url(#cm)"><line x1="1343" y1="348.6" x2="1413.6" y2="197.9" stroke="#ff0000" stroke-width="3.5"/>
<polygon points="1417.4,189.7 1416.6,201.5 1408.9,197.9" fill="#ff0000" stroke="#ff0000" stroke-width="2" stroke-linejoin="round"/></g>
<g clip-path="url(#cm)"><line x1="1415.3" y1="197" x2="1433.1" y2="228.5" stroke="#ff0000" stroke-width="3.5"/>
<polygon points="1437.5,236.3 1428.4,228.8 1435.8,224.6" fill="#ff0000" stroke="#ff0000" stroke-width="2" stroke-linejoin="round"/></g>
<text x="1452" y="273" font-size="20" fill="#00ff00" textLength="107" lengthAdjust="spacingAndGlyphs" font-family='"Liberation Serif","Noto Serif CJK SC",serif' shape-rendering="auto">多空转折点</text>
<polygon points="1447,25 1457,25 1452,30" fill="#c0c0c0"/>
<rect x="1653" y="45" width="2" height="1" fill="#000" />
<text x="1658.5" y="49.2" font-size="11" fill="#000" stroke="#000" stroke-width="0.3" textLength="32.5" lengthAdjust="spacingAndGlyphs" >110.830</text>
<rect x="1653" y="78" width="2" height="1" fill="#000" />
<text x="1658.5" y="82.2" font-size="11" fill="#000" stroke="#000" stroke-width="0.3" textLength="32.5" lengthAdjust="spacingAndGlyphs" >110.695</text>
<rect x="1653" y="111" width="2" height="1" fill="#000" />
<text x="1658.5" y="115.2" font-size="11" fill="#000" stroke="#000" stroke-width="0.3" textLength="32.5" lengthAdjust="spacingAndGlyphs" >110.560</text>
<rect x="1653" y="144" width="2" height="1" fill="#000" />
<text x="1658.5" y="148.2" font-size="11" fill="#000" stroke="#000" stroke-width="0.3" textLength="32.5" lengthAdjust="spacingAndGlyphs" >110.425</text>
<rect x="1653" y="177" width="2" height="1" fill="#000" />
<text x="1658.5" y="181.2" font-size="11" fill="#000" stroke="#000" stroke-width="0.3" textLength="32.5" lengthAdjust="spacingAndGlyphs" >110.290</text>
<rect x="1653" y="210" width="2" height="1" fill="#000" />
<rect x="1653" y="243" width="2" height="1" fill="#000" />
<text x="1658.5" y="247.2" font-size="11" fill="#000" stroke="#000" stroke-width="0.3" textLength="32.5" lengthAdjust="spacingAndGlyphs" >110.020</text>
<rect x="1653" y="276" width="2" height="1" fill="#000" />
<text x="1658.5" y="280.2" font-size="11" fill="#000" stroke="#000" stroke-width="0.3" textLength="32.5" lengthAdjust="spacingAndGlyphs" >109.885</text>
<rect x="1653" y="309" width="2" height="1" fill="#000" />
<text x="1658.5" y="313.2" font-size="11" fill="#000" stroke="#000" stroke-width="0.3" textLength="32.5" lengthAdjust="spacingAndGlyphs" >109.750</text>
<rect x="1653" y="343" width="2" height="1" fill="#000" />
<text x="1658.5" y="347.2" font-size="11" fill="#000" stroke="#000" stroke-width="0.3" textLength="32.5" lengthAdjust="spacingAndGlyphs" >109.615</text>
<rect x="1653" y="376" width="2" height="1" fill="#000" />
<text x="1658.5" y="380.2" font-size="11" fill="#000" stroke="#000" stroke-width="0.3" textLength="32.5" lengthAdjust="spacingAndGlyphs" >109.480</text>
<rect x="1653" y="409" width="2" height="1" fill="#000" />
<text x="1658.5" y="413.2" font-size="11" fill="#000" stroke="#000" stroke-width="0.3" textLength="32.5" lengthAdjust="spacingAndGlyphs" >109.345</text>
<rect x="1653" y="442" width="2" height="1" fill="#000" />
<text x="1658.5" y="446.2" font-size="11" fill="#000" stroke="#000" stroke-width="0.3" textLength="32.5" lengthAdjust="spacingAndGlyphs" >109.210</text>
<rect x="1653" y="475" width="2" height="1" fill="#000" />
<text x="1658.5" y="479.2" font-size="11" fill="#000" stroke="#000" stroke-width="0.3" textLength="32.5" lengthAdjust="spacingAndGlyphs" >109.075</text>
<rect x="1653" y="508" width="2" height="1" fill="#000" />
<text x="1658.5" y="512.2" font-size="11" fill="#000" stroke="#000" stroke-width="0.3" textLength="32.5" lengthAdjust="spacingAndGlyphs" >108.940</text>
<rect x="1653" y="541" width="2" height="1" fill="#000" />
<text x="1658.5" y="545.2" font-size="11" fill="#000" stroke="#000" stroke-width="0.3" textLength="32.5" lengthAdjust="spacingAndGlyphs" >108.805</text>
<rect x="1653" y="574" width="2" height="1" fill="#000" />
<text x="1658.5" y="578.2" font-size="11" fill="#000" stroke="#000" stroke-width="0.3" textLength="32.5" lengthAdjust="spacingAndGlyphs" >108.670</text>
<rect x="1654" y="184" width="41" height="11" fill="#ff0000" />
<text x="1658.5" y="193" font-size="11" fill="#fff" stroke="#fff" stroke-width="0.3" textLength="32.5" lengthAdjust="spacingAndGlyphs" >110.237</text>
<rect x="1647" y="188" width="5" height="5" fill="#ff0000" />
<rect x="1648" y="189" width="3" height="3" fill="#fff" />
<rect x="1654" y="203" width="41" height="11" fill="#ff0000" />
<text x="1658.5" y="212" font-size="11" fill="#fff" stroke="#fff" stroke-width="0.3" textLength="32.5" lengthAdjust="spacingAndGlyphs" >110.160</text>
<rect x="1647" y="207" width="5" height="5" fill="#ff0000" />
<rect x="1648" y="208" width="3" height="3" fill="#fff" />
<rect x="1654" y="225" width="41" height="10" fill="#000000" />
<text x="1658.5" y="233" font-size="11" fill="#fff" stroke="#fff" stroke-width="0.3" textLength="32.5" lengthAdjust="spacingAndGlyphs" >110.076</text>
<rect x="1654" y="235" width="41" height="11" fill="#32cd32" />
<text x="1658.5" y="244" font-size="11" fill="#fff" stroke="#fff" stroke-width="0.3" textLength="32.5" lengthAdjust="spacingAndGlyphs" >110.030</text>
<rect x="1647" y="239" width="5" height="5" fill="#32cd32" />
<rect x="1648" y="240" width="3" height="3" fill="#fff" />
<rect x="1654" y="255" width="41" height="11" fill="#0000ff" />
<text x="1658.5" y="264" font-size="11" fill="#fff" stroke="#fff" stroke-width="0.3" textLength="32.5" lengthAdjust="spacingAndGlyphs" >109.948</text>
<rect x="1647" y="259" width="5" height="5" fill="#0000ff" />
<rect x="1648" y="260" width="3" height="3" fill="#fff" />
<rect x="1654" y="280" width="41" height="11" fill="#0000ff" />
<text x="1658.5" y="289" font-size="11" fill="#fff" stroke="#fff" stroke-width="0.3" textLength="32.5" lengthAdjust="spacingAndGlyphs" >109.846</text>
<rect x="1647" y="284" width="5" height="5" fill="#0000ff" />
<rect x="1648" y="285" width="3" height="3" fill="#fff" />
<text x="-1" y="592.3" font-size="11" fill="#000" stroke="#000" stroke-width="0.3" textLength="127" lengthAdjust="spacingAndGlyphs" >MACD(12,26,9) 0.0835 0.0599</text>
<g clip-path="url(#cd)">
<rect x="2" y="663" width="1" height="39" fill="#c0c0c0" />
<rect x="10" y="663" width="1" height="37" fill="#c0c0c0" />
<rect x="18" y="663" width="1" height="30" fill="#c0c0c0" />
<rect x="26" y="663" width="1" height="25" fill="#c0c0c0" />
<rect x="34" y="663" width="1" height="21" fill="#c0c0c0" />
<rect x="42" y="663" width="1" height="19" fill="#c0c0c0" />
<rect x="50" y="663" width="1" height="22" fill="#c0c0c0" />
<rect x="58" y="663" width="1" height="22" fill="#c0c0c0" />
<rect x="66" y="663" width="1" height="25" fill="#c0c0c0" />
<rect x="74" y="663" width="1" height="31" fill="#c0c0c0" />
<rect x="82" y="663" width="1" height="40" fill="#c0c0c0" />
<rect x="90" y="663" width="1" height="46" fill="#c0c0c0" />
<rect x="98" y="663" width="1" height="49" fill="#c0c0c0" />
<rect x="106" y="663" width="1" height="53" fill="#c0c0c0" />
<rect x="114" y="663" width="1" height="51" fill="#c0c0c0" />
<rect x="122" y="663" width="1" height="50" fill="#c0c0c0" />
<rect x="130" y="663" width="1" height="40" fill="#c0c0c0" />
<rect x="138" y="663" width="1" height="35" fill="#c0c0c0" />
<rect x="146" y="663" width="1" height="28" fill="#c0c0c0" />
<rect x="154" y="663" width="1" height="23" fill="#c0c0c0" />
<rect x="162" y="663" width="1" height="14" fill="#c0c0c0" />
<rect x="170" y="663" width="1" height="8" fill="#c0c0c0" />
<rect x="178" y="663" width="1" height="1" fill="#c0c0c0" />
<rect x="186" y="655" width="1" height="9" fill="#c0c0c0" />
<rect x="194" y="650" width="1" height="14" fill="#c0c0c0" />
<rect x="202" y="648" width="1" height="16" fill="#c0c0c0" />
<rect x="210" y="645" width="1" height="19" fill="#c0c0c0" />
<rect x="218" y="641" width="1" height="23" fill="#c0c0c0" />
<rect x="226" y="643" width="1" height="21" fill="#c0c0c0" />
<rect x="234" y="643" width="1" height="21" fill="#c0c0c0" />
<rect x="242" y="644" width="1" height="20" fill="#c0c0c0" />
<rect x="250" y="642" width="1" height="22" fill="#c0c0c0" />
<rect x="258" y="639" width="1" height="25" fill="#c0c0c0" />
<rect x="266" y="632" width="1" height="32" fill="#c0c0c0" />
<rect x="274" y="628" width="1" height="36" fill="#c0c0c0" />
<rect x="282" y="624" width="1" height="40" fill="#c0c0c0" />
<rect x="290" y="621" width="1" height="43" fill="#c0c0c0" />
<rect x="298" y="625" width="1" height="39" fill="#c0c0c0" />
<rect x="306" y="631" width="1" height="33" fill="#c0c0c0" />
<rect x="314" y="634" width="1" height="30" fill="#c0c0c0" />
<rect x="322" y="637" width="1" height="27" fill="#c0c0c0" />
<rect x="330" y="637" width="1" height="27" fill="#c0c0c0" />
<rect x="338" y="640" width="1" height="24" fill="#c0c0c0" />
<rect x="346" y="644" width="1" height="20" fill="#c0c0c0" />
<rect x="354" y="651" width="1" height="13" fill="#c0c0c0" />
<rect x="362" y="655" width="1" height="9" fill="#c0c0c0" />
<rect x="370" y="663" width="1" height="6" fill="#c0c0c0" />
<rect x="378" y="663" width="1" height="16" fill="#c0c0c0" />
<rect x="386" y="663" width="1" height="21" fill="#c0c0c0" />
<rect x="394" y="663" width="1" height="25" fill="#c0c0c0" />
<rect x="402" y="663" width="1" height="24" fill="#c0c0c0" />
<rect x="410" y="663" width="1" height="21" fill="#c0c0c0" />
<rect x="418" y="663" width="1" height="18" fill="#c0c0c0" />
<rect x="426" y="663" width="1" height="20" fill="#c0c0c0" />
<rect x="434" y="663" width="1" height="21" fill="#c0c0c0" />
<rect x="442" y="663" width="1" height="24" fill="#c0c0c0" />
<rect x="450" y="663" width="1" height="24" fill="#c0c0c0" />
<rect x="458" y="663" width="1" height="25" fill="#c0c0c0" />
<rect x="466" y="663" width="1" height="32" fill="#c0c0c0" />
<rect x="474" y="663" width="1" height="39" fill="#c0c0c0" />
<rect x="482" y="663" width="1" height="45" fill="#c0c0c0" />
<rect x="490" y="663" width="1" height="47" fill="#c0c0c0" />
<rect x="498" y="663" width="1" height="47" fill="#c0c0c0" />
<rect x="506" y="663" width="1" height="44" fill="#c0c0c0" />
<rect x="514" y="663" width="1" height="40" fill="#c0c0c0" />
<rect x="522" y="663" width="1" height="35" fill="#c0c0c0" />
<rect x="530" y="663" width="1" height="32" fill="#c0c0c0" />
<rect x="538" y="663" width="1" height="31" fill="#c0c0c0" />
<rect x="546" y="663" width="1" height="29" fill="#c0c0c0" />
<rect x="554" y="663" width="1" height="31" fill="#c0c0c0" />
<rect x="562" y="663" width="1" height="38" fill="#c0c0c0" />
<rect x="570" y="663" width="1" height="42" fill="#c0c0c0" />
<rect x="578" y="663" width="1" height="46" fill="#c0c0c0" />
<rect x="586" y="663" width="1" height="48" fill="#c0c0c0" />
<rect x="594" y="663" width="1" height="51" fill="#c0c0c0" />
<rect x="602" y="663" width="1" height="53" fill="#c0c0c0" />
<rect x="610" y="663" width="1" height="56" fill="#c0c0c0" />
<rect x="618" y="663" width="1" height="58" fill="#c0c0c0" />
<rect x="626" y="663" width="1" height="61" fill="#c0c0c0" />
<rect x="634" y="663" width="1" height="61" fill="#c0c0c0" />
<rect x="642" y="663" width="1" height="59" fill="#c0c0c0" />
<rect x="650" y="663" width="1" height="59" fill="#c0c0c0" />
<rect x="658" y="663" width="1" height="49" fill="#c0c0c0" />
<rect x="666" y="663" width="1" height="39" fill="#c0c0c0" />
<rect x="674" y="663" width="1" height="30" fill="#c0c0c0" />
<rect x="682" y="663" width="1" height="19" fill="#c0c0c0" />
<rect x="690" y="663" width="1" height="13" fill="#c0c0c0" />
<rect x="698" y="663" width="1" height="11" fill="#c0c0c0" />
<rect x="706" y="663" width="1" height="1" fill="#c0c0c0" />
<rect x="714" y="658" width="1" height="6" fill="#c0c0c0" />
<rect x="722" y="653" width="1" height="11" fill="#c0c0c0" />
<rect x="730" y="646" width="1" height="18" fill="#c0c0c0" />
<rect x="738" y="644" width="1" height="20" fill="#c0c0c0" />
<rect x="746" y="642" width="1" height="22" fill="#c0c0c0" />
<rect x="754" y="629" width="1" height="35" fill="#c0c0c0" />
<rect x="762" y="620" width="1" height="44" fill="#c0c0c0" />
<rect x="770" y="613" width="1" height="51" fill="#c0c0c0" />
<rect x="778" y="609" width="1" height="55" fill="#c0c0c0" />
<rect x="786" y="607" width="1" height="57" fill="#c0c0c0" />
<rect x="794" y="608" width="1" height="56" fill="#c0c0c0" />
<rect x="802" y="606" width="1" height="58" fill="#c0c0c0" />
<rect x="810" y="603" width="1" height="61" fill="#c0c0c0" />
<rect x="818" y="602" width="1" height="62" fill="#c0c0c0" />
<rect x="826" y="601" width="1" height="63" fill="#c0c0c0" />
<rect x="834" y="599" width="1" height="65" fill="#c0c0c0" />
<rect x="842" y="597" width="1" height="67" fill="#c0c0c0" />
<rect x="850" y="595" width="1" height="69" fill="#c0c0c0" />
<rect x="858" y="593" width="1" height="71" fill="#c0c0c0" />
<rect x="866" y="593" width="1" height="71" fill="#c0c0c0" />
<rect x="874" y="592" width="1" height="72" fill="#c0c0c0" />
<rect x="882" y="589" width="1" height="75" fill="#c0c0c0" />
<rect x="890" y="589" width="1" height="75" fill="#c0c0c0" />
<rect x="898" y="596" width="1" height="68" fill="#c0c0c0" />
<rect x="906" y="603" width="1" height="61" fill="#c0c0c0" />
<rect x="914" y="610" width="1" height="54" fill="#c0c0c0" />
<rect x="922" y="616" width="1" height="48" fill="#c0c0c0" />
<rect x="930" y="621" width="1" height="43" fill="#c0c0c0" />
<rect x="938" y="625" width="1" height="39" fill="#c0c0c0" />
<rect x="946" y="629" width="1" height="35" fill="#c0c0c0" />
<rect x="954" y="632" width="1" height="32" fill="#c0c0c0" />
<rect x="962" y="635" width="1" height="29" fill="#c0c0c0" />
<rect x="970" y="638" width="1" height="26" fill="#c0c0c0" />
<rect x="978" y="642" width="1" height="22" fill="#c0c0c0" />
<rect x="986" y="648" width="1" height="16" fill="#c0c0c0" />
<rect x="994" y="663" width="1" height="1" fill="#c0c0c0" />
<rect x="1002" y="663" width="1" height="15" fill="#c0c0c0" />
<rect x="1010" y="663" width="1" height="27" fill="#c0c0c0" />
<rect x="1018" y="663" width="1" height="41" fill="#c0c0c0" />
<rect x="1026" y="663" width="1" height="51" fill="#c0c0c0" />
<rect x="1034" y="663" width="1" height="59" fill="#c0c0c0" />
<rect x="1042" y="663" width="1" height="67" fill="#c0c0c0" />
<rect x="1050" y="663" width="1" height="74" fill="#c0c0c0" />
<rect x="1058" y="663" width="1" height="77" fill="#c0c0c0" />
<rect x="1066" y="663" width="1" height="78" fill="#c0c0c0" />
<rect x="1074" y="663" width="1" height="77" fill="#c0c0c0" />
<rect x="1082" y="663" width="1" height="77" fill="#c0c0c0" />
<rect x="1090" y="663" width="1" height="68" fill="#c0c0c0" />
<rect x="1098" y="663" width="1" height="60" fill="#c0c0c0" />
<rect x="1106" y="663" width="1" height="56" fill="#c0c0c0" />
<rect x="1114" y="663" width="1" height="49" fill="#c0c0c0" />
<rect x="1122" y="663" width="1" height="44" fill="#c0c0c0" />
<rect x="1130" y="663" width="1" height="36" fill="#c0c0c0" />
<rect x="1138" y="663" width="1" height="25" fill="#c0c0c0" />
<rect x="1146" y="663" width="1" height="20" fill="#c0c0c0" />
<rect x="1154" y="663" width="1" height="14" fill="#c0c0c0" />
<rect x="1162" y="663" width="1" height="1" fill="#c0c0c0" />
<rect x="1170" y="663" width="1" height="1" fill="#c0c0c0" />
<rect x="1178" y="663" width="1" height="5" fill="#c0c0c0" />
<rect x="1186" y="663" width="1" height="5" fill="#c0c0c0" />
<rect x="1194" y="663" width="1" height="3" fill="#c0c0c0" />
<rect x="1202" y="663" width="1" height="2" fill="#c0c0c0" />
<rect x="1210" y="663" width="1" height="2" fill="#c0c0c0" />
<rect x="1218" y="663" width="1" height="5" fill="#c0c0c0" />
<rect x="1226" y="663" width="1" height="5" fill="#c0c0c0" />
<rect x="1234" y="663" width="1" height="4" fill="#c0c0c0" />
<rect x="1242" y="663" width="1" height="2" fill="#c0c0c0" />
<rect x="1250" y="663" width="1" height="1" fill="#c0c0c0" />
<rect x="1258" y="661" width="1" height="3" fill="#c0c0c0" />
<rect x="1266" y="658" width="1" height="6" fill="#c0c0c0" />
<rect x="1274" y="651" width="1" height="13" fill="#c0c0c0" />
<rect x="1282" y="653" width="1" height="11" fill="#c0c0c0" />
<rect x="1290" y="658" width="1" height="6" fill="#c0c0c0" />
<rect x="1298" y="662" width="1" height="2" fill="#c0c0c0" />
<rect x="1306" y="662" width="1" height="2" fill="#c0c0c0" />
<rect x="1314" y="663" width="1" height="1" fill="#c0c0c0" />
<rect x="1322" y="663" width="1" height="1" fill="#c0c0c0" />
<rect x="1330" y="663" width="1" height="2" fill="#c0c0c0" />
<rect x="1338" y="663" width="1" height="5" fill="#c0c0c0" />
<rect x="1346" y="663" width="1" height="5" fill="#c0c0c0" />
<rect x="1354" y="663" width="1" height="3" fill="#c0c0c0" />
<rect x="1362" y="663" width="1" height="1" fill="#c0c0c0" />
<rect x="1370" y="661" width="1" height="3" fill="#c0c0c0" />
<rect x="1378" y="659" width="1" height="5" fill="#c0c0c0" />
<rect x="1386" y="655" width="1" height="9" fill="#c0c0c0" />
<rect x="1394" y="652" width="1" height="12" fill="#c0c0c0" />
<rect x="1402" y="650" width="1" height="14" fill="#c0c0c0" />
<rect x="1410" y="645" width="1" height="19" fill="#c0c0c0" />
<rect x="1418" y="641" width="1" height="23" fill="#c0c0c0" />
<rect x="1426" y="640" width="1" height="24" fill="#c0c0c0" />
<rect x="1434" y="641" width="1" height="23" fill="#c0c0c0" />
<rect x="1442" y="639" width="1" height="25" fill="#c0c0c0" />
<polyline points="0,685.2 10.6,691 18.4,693.2 26.5,694.3 34.5,694.3 42.4,693 50.4,692.2 58.5,691.5 66.5,690 74.6,689.4 82.4,689.4 90.5,691 98.5,693.6 106.6,696.8 114.4,701 122.5,704.7 130.5,706 138.6,707 146.4,706.4 154.4,704.9 162.5,701.7 170.5,697.5 178.4,691 186.4,684 194.5,677.8 202.5,670.3 210.4,665 218.4,659.7 226.5,655 234.5,650.2 242.4,647 250.4,644.5 258.5,643.2 266.5,641 274.6,638.6 282.4,636 290.5,634.3 298.5,632.8 306.4,631 314.4,630 322.5,629.4 330.5,629.7 338.6,630.5 342,631.6 349.5,633.3 356,635.8 362.5,638.6 370.5,643.9 378.6,649.6 386.4,654.4 394.4,659.7 402.5,666.5 410.5,671.4 418.4,675.6 426.4,679.4 434.5,683 442.5,684 450.4,685.2 458.4,685.6 466.5,686.9 474.5,688.8 482.4,690.9 490.4,694.7 498.5,697.2 506.5,700 514.4,701.5 522.4,702.5 530.5,703.2 538.5,703.2 546.6,701.7 554.4,700 562.5,699.6 570.5,699.4 578.5,699.4 586.4,700.6 594.4,702.5 602.5,704.7 610.6,707.8 618.4,710.2 626.4,713.8 634.5,716.5 642.5,718.6 650.4,719.3 658.4,719 666.5,718 674.5,714.8 682.6,710.5 690.6,705.3 698.4,701.7 706.5,694.7 714.5,687.3 722.4,679.9 730.4,672.5 738.5,665 746.5,659.7 754.6,653 762.4,647 770.5,640.7 778.5,633.3 786.6,628 794.4,624.2 802.5,619 810.5,613.8 818.6,610 826.4,607.8 834.4,604.7 842.5,603.2 850.5,601.5 858.4,600 866.4,598.3 874.5,596.8 882.5,594.7 890.4,593.4 898.5,593.4 906.5,593.4 914.5,594 922.4,597.9 930.4,600 938.5,603.2 946.5,608.3 954.6,612.7 962.4,616.7 970.5,622.7 978.5,627.5 986.4,631 994.5,636.4 1002.5,642.8 1010.5,650.2 1018.6,658.3 1026.4,667.7 1034.4,678.3 1042.5,688.3 1050.5,697.9 1058.6,709 1066.4,717 1074.4,723.3 1082.5,730 1090.5,732.8 1098.4,734.3 1106.4,734.3 1114.5,731.4 1122.5,727.5 1130.4,724 1138.4,719 1146.5,712 1154.5,704.9 1162.4,697.5 1170.4,690.5 1178.5,685.2 1186.5,679.9 1194.4,676 1202.4,672 1210.5,669.9 1218.5,668.2 1226.6,667.8 1234.5,667.6 1242.5,667.2 1250.5,666.5 1258.4,665.7 1266.4,664.4 1274.4,663.3 1282.5,661.4 1290.6,660.2 1298.4,659.3 1306.4,658.7 1314.5,658.3 1322.5,658.3 1330.4,659 1338.4,660.6 1346.5,662.3 1354.5,663.4 1362.6,665 1370.5,665 1378.5,664 1386.5,662.9 1394.5,662.3 1402.6,660.4 1410.4,657 1418.4,654.4 1426.5,651.3 1434.5,648.5 1442.4,646" fill="none" stroke="#ff0000" stroke-width="1" stroke-dasharray="3,3"/>
</g>
<g clip-path="url(#cd)"><line x1="1357.6" y1="664" x2="1444.7" y2="640.4" stroke="#ff0000" stroke-width="2.6"/>
<polygon points="1453.4,638.1 1443.9,645.1 1441.7,636.9" fill="#ff0000" stroke="#ff0000" stroke-width="2" stroke-linejoin="round"/></g>
<rect x="1653" y="581" width="2" height="1" fill="#000" />
<text x="1656" y="590.2" font-size="11" fill="#000" stroke="#000" stroke-width="0.3" textLength="27.5" lengthAdjust="spacingAndGlyphs" >0.2841</text>
<rect x="1653" y="663" width="2" height="1" fill="#000" />
<text x="1656" y="667.2" font-size="11" fill="#000" stroke="#000" stroke-width="0.3" textLength="17.5" lengthAdjust="spacingAndGlyphs" >0.00</text>
<rect x="1653" y="747" width="2" height="1" fill="#000" />
<text x="1656" y="746.2" font-size="11" fill="#000" stroke="#000" stroke-width="0.3" textLength="31" lengthAdjust="spacingAndGlyphs" >-0.2949</text>
<text x="-1" y="763.7" font-size="11" fill="#000" stroke="#000" stroke-width="0.3" textLength="67" lengthAdjust="spacingAndGlyphs" >RSI(14) 58.6200</text>
<line x1="1" y1="787.5" x2="1652" y2="787.5" stroke="#c0c0c0" stroke-width="1" stroke-dasharray="3,3"/>
<rect x="1653" y="787" width="2" height="1" fill="#000" />
<line x1="1" y1="838.5" x2="1652" y2="838.5" stroke="#c0c0c0" stroke-width="1" stroke-dasharray="3,3"/>
<rect x="1653" y="838" width="2" height="1" fill="#000" />
<line x1="1" y1="899.5" x2="1652" y2="899.5" stroke="#c0c0c0" stroke-width="1" stroke-dasharray="3,3"/>
<rect x="1653" y="899" width="2" height="1" fill="#000" />
<g clip-path="url(#cr)">
<polyline points="-5.5,863.997 2.5,861.447 10.5,849.122 18.5,837.435 26.5,835.31 34.5,839.56 42.5,842.748 50.5,852.31 58.5,847.635 66.5,853.372 74.5,861.447 82.5,868.247 90.5,867.184 98.5,863.36 106.5,867.184 114.5,853.372 122.5,855.497 130.5,836.798 138.5,841.26 146.5,836.798 154.5,837.435 162.5,827.448 170.5,828.51 178.5,821.498 186.5,820.436 194.5,820.436 202.5,829.36 210.5,824.686 218.5,822.561 226.5,833.185 234.5,831.485 242.5,831.485 250.5,823.623 258.5,820.011 266.5,810.448 274.5,812.573 282.5,810.448 290.5,811.511 298.5,830.635 306.5,838.498 314.5,833.61 322.5,832.123 330.5,827.448 338.5,832.123 346.5,841.048 354.5,849.122 362.5,845.51 370.5,869.309 378.5,865.059 386.5,857.197 394.5,858.685 402.5,846.572 410.5,839.135 418.5,840.623 426.5,851.247 434.5,849.547 442.5,854.435 450.5,850.185 458.5,850.185 466.5,865.059 474.5,869.309 482.5,870.372 490.5,861.447 498.5,861.447 506.5,849.76 514.5,846.36 522.5,843.385 530.5,846.36 538.5,849.547 546.5,848.485 554.5,859.747 562.5,872.072 570.5,866.547 578.5,867.609 586.5,868.672 594.5,870.372 602.5,872.497 610.5,875.684 618.5,878.447 626.5,880.359 634.5,872.497 642.5,867.184 650.5,871.009 658.5,836.373 666.5,834.248 674.5,829.998 682.5,821.073 690.5,829.998 698.5,839.348 706.5,821.073 714.5,822.561 722.5,822.561 730.5,816.611 738.5,827.235 746.5,823.198 754.5,805.136 762.5,806.623 770.5,805.561 778.5,808.111 786.5,811.298 794.5,818.311 802.5,811.511 810.5,808.323 818.5,808.323 826.5,808.323 834.5,802.799 842.5,800.674 850.5,799.186 858.5,798.124 866.5,797.061 874.5,795.361 882.5,791.111 890.5,797.061 898.5,821.923 906.5,826.385 914.5,829.998 922.5,832.548 930.5,828.935 938.5,825.323 946.5,832.548 954.5,829.573 962.5,829.573 970.5,829.573 978.5,841.685 986.5,846.572 994.5,875.047 1002.5,881.422 1010.5,877.384 1018.5,885.671 1026.5,882.484 1034.5,883.334 1042.5,886.309 1050.5,887.796 1058.5,880.359 1066.5,880.359 1074.5,877.384 1082.5,878.447 1090.5,849.122 1098.5,850.185 1106.5,853.372 1114.5,844.235 1122.5,846.572 1130.5,836.373 1138.5,825.323 1146.5,836.373 1154.5,831.485 1162.5,815.123 1170.5,837.86 1178.5,847.422 1186.5,839.135 1194.5,837.435 1202.5,838.073 1210.5,839.56 1218.5,846.36 1226.5,841.26 1234.5,837.435 1242.5,835.31 1250.5,833.185 1258.5,831.06 1266.5,829.36 1274.5,817.673 1282.5,840.623 1290.5,845.297 1298.5,845.297 1306.5,840.623 1314.5,839.135 1322.5,843.173 1330.5,844.448 1338.5,846.572 1346.5,840.835 1354.5,837.223 1362.5,839.56 1370.5,827.448 1378.5,820.223 1386.5,824.048 1394.5,825.323 1402.5,829.36 1410.5,815.123 1418.5,818.948 1426.5,822.561 1434.5,828.298 1442.5,824.261" fill="none" stroke="#1e90ff" stroke-width="1" />
</g>
<g clip-path="url(#cr)"><line x1="1336.6" y1="837.4" x2="1435.7" y2="819.3" stroke="#ff0000" stroke-width="2.6"/>
<polygon points="1444.6,817.7 1434.5,823.9 1433.0,815.5" fill="#ff0000" stroke="#ff0000" stroke-width="2" stroke-linejoin="round"/></g>
<text x="1656" y="762.2" font-size="11" fill="#000" stroke="#000" stroke-width="0.3" textLength="15" lengthAdjust="spacingAndGlyphs" >100</text>
<text x="1656" y="791.2" font-size="11" fill="#000" stroke="#000" stroke-width="0.3" textLength="10.5" lengthAdjust="spacingAndGlyphs" >80</text>
<text x="1656" y="842.2" font-size="11" fill="#000" stroke="#000" stroke-width="0.3" textLength="10.5" lengthAdjust="spacingAndGlyphs" >50</text>
<text x="1656" y="903.2" font-size="11" fill="#000" stroke="#000" stroke-width="0.3" textLength="10.5" lengthAdjust="spacingAndGlyphs" >15</text>
<text x="1656" y="922.2" font-size="11" fill="#000" stroke="#000" stroke-width="0.3" textLength="5" lengthAdjust="spacingAndGlyphs" >0</text>
<text x="-7" y="938.2" font-size="11" fill="#000" stroke="#000" stroke-width="0.3" textLength="46.3" lengthAdjust="spacingAndGlyphs" >16 Jul 2021</text>
<rect x="58" y="926" width="1" height="3" fill="#000" />
<text x="57" y="938.2" font-size="11" fill="#000" stroke="#000" stroke-width="0.3" textLength="49.5" lengthAdjust="spacingAndGlyphs" >19 Jul 00:00</text>
<rect x="122" y="926" width="1" height="3" fill="#000" />
<text x="121" y="938.2" font-size="11" fill="#000" stroke="#000" stroke-width="0.3" textLength="49.5" lengthAdjust="spacingAndGlyphs" >20 Jul 08:00</text>
<rect x="186" y="926" width="1" height="3" fill="#000" />
<text x="185" y="938.2" font-size="11" fill="#000" stroke="#000" stroke-width="0.3" textLength="49.5" lengthAdjust="spacingAndGlyphs" >21 Jul 16:00</text>
<rect x="250" y="926" width="1" height="3" fill="#000" />
<text x="249" y="938.2" font-size="11" fill="#000" stroke="#000" stroke-width="0.3" textLength="49.5" lengthAdjust="spacingAndGlyphs" >23 Jul 00:00</text>
<rect x="314" y="926" width="1" height="3" fill="#000" />
<text x="313" y="938.2" font-size="11" fill="#000" stroke="#000" stroke-width="0.3" textLength="49.5" lengthAdjust="spacingAndGlyphs" >26 Jul 08:00</text>
<rect x="378" y="926" width="1" height="3" fill="#000" />
<text x="377" y="938.2" font-size="11" fill="#000" stroke="#000" stroke-width="0.3" textLength="49.5" lengthAdjust="spacingAndGlyphs" >27 Jul 16:00</text>
<rect x="442" y="926" width="1" height="3" fill="#000" />
<text x="441" y="938.2" font-size="11" fill="#000" stroke="#000" stroke-width="0.3" textLength="49.5" lengthAdjust="spacingAndGlyphs" >29 Jul 00:00</text>
<rect x="506" y="926" width="1" height="3" fill="#000" />
<text x="505" y="938.2" font-size="11" fill="#000" stroke="#000" stroke-width="0.3" textLength="49.5" lengthAdjust="spacingAndGlyphs" >30 Jul 08:00</text>
<rect x="570" y="926" width="1" height="3" fill="#000" />
<text x="569" y="938.2" font-size="11" fill="#000" stroke="#000" stroke-width="0.3" textLength="50.4" lengthAdjust="spacingAndGlyphs" >2 Aug 16:00</text>
<rect x="634" y="926" width="1" height="3" fill="#000" />
<text x="633" y="938.2" font-size="11" fill="#000" stroke="#000" stroke-width="0.3" textLength="50.4" lengthAdjust="spacingAndGlyphs" >4 Aug 00:00</text>
<rect x="698" y="926" width="1" height="3" fill="#000" />
<text x="697" y="938.2" font-size="11" fill="#000" stroke="#000" stroke-width="0.3" textLength="50.4" lengthAdjust="spacingAndGlyphs" >5 Aug 08:00</text>
<rect x="762" y="926" width="1" height="3" fill="#000" />
<text x="761" y="938.2" font-size="11" fill="#000" stroke="#000" stroke-width="0.3" textLength="50.4" lengthAdjust="spacingAndGlyphs" >6 Aug 16:00</text>
<rect x="826" y="926" width="1" height="3" fill="#000" />
<text x="825" y="938.2" font-size="11" fill="#000" stroke="#000" stroke-width="0.3" textLength="55.5" lengthAdjust="spacingAndGlyphs" >10 Aug 00:00</text>
<rect x="890" y="926" width="1" height="3" fill="#000" />
<text x="889" y="938.2" font-size="11" fill="#000" stroke="#000" stroke-width="0.3" textLength="55.5" lengthAdjust="spacingAndGlyphs" >11 Aug 08:00</text>
<rect x="954" y="926" width="1" height="3" fill="#000" />
<text x="953" y="938.2" font-size="11" fill="#000" stroke="#000" stroke-width="0.3" textLength="55.5" lengthAdjust="spacingAndGlyphs" >12 Aug 16:00</text>
<rect x="1018" y="926" width="1" height="3" fill="#000" />
<text x="1017" y="938.2" font-size="11" fill="#000" stroke="#000" stroke-width="0.3" textLength="55.5" lengthAdjust="spacingAndGlyphs" >16 Aug 00:00</text>
<rect x="1082" y="926" width="1" height="3" fill="#000" />
<text x="1081" y="938.2" font-size="11" fill="#000" stroke="#000" stroke-width="0.3" textLength="55.5" lengthAdjust="spacingAndGlyphs" >17 Aug 08:00</text>
<rect x="1146" y="926" width="1" height="3" fill="#000" />
<text x="1145" y="938.2" font-size="11" fill="#000" stroke="#000" stroke-width="0.3" textLength="55.5" lengthAdjust="spacingAndGlyphs" >18 Aug 16:00</text>
<rect x="1210" y="926" width="1" height="3" fill="#000" />
<text x="1209" y="938.2" font-size="11" fill="#000" stroke="#000" stroke-width="0.3" textLength="55.5" lengthAdjust="spacingAndGlyphs" >20 Aug 00:00</text>
<rect x="1274" y="926" width="1" height="3" fill="#000" />
<text x="1273" y="938.2" font-size="11" fill="#000" stroke="#000" stroke-width="0.3" textLength="55.5" lengthAdjust="spacingAndGlyphs" >23 Aug 08:00</text>
<rect x="1338" y="926" width="1" height="3" fill="#000" />
<text x="1337" y="938.2" font-size="11" fill="#000" stroke="#000" stroke-width="0.3" textLength="55.5" lengthAdjust="spacingAndGlyphs" >24 Aug 16:00</text>
<rect x="1402" y="926" width="1" height="3" fill="#000" />
<text x="1401" y="938.2" font-size="11" fill="#000" stroke="#000" stroke-width="0.3" textLength="55.5" lengthAdjust="spacingAndGlyphs" >26 Aug 00:00</text>
<polygon points="0,30 5,35.5 0,35.5" fill="#000" shape-rendering="auto"/>
<text x="9" y="36.6" font-size="11" fill="#000" stroke="#000" stroke-width="0.3" textLength="201" lengthAdjust="spacingAndGlyphs" >USDJPY-,H4&#160;&#160;110.016 110.079 110.016 110.076</text>
<rect x="0" y="44" width="217" height="25" fill="#fff" />
<rect x="0" y="44" width="49" height="25" fill="url(#gs)" />
<rect x="165" y="44" width="51" height="25" fill="url(#gs)" />
<rect x="0" y="44" width="49" height="1" fill="#d83a3a" />
<rect x="165" y="44" width="51" height="1" fill="#d83a3a" />
<rect x="0" y="68" width="106" height="33" fill="url(#gp)" />
<rect x="108" y="68" width="108" height="33" fill="url(#gp)" />
<rect x="2" y="68" width="43" height="1" fill="#f6a0a0" />
<rect x="168" y="68" width="44" height="1" fill="#f6a0a0" />
<text x="9" y="60" font-size="12.5" fill="#fff" stroke="#fff" stroke-width="0.3" textLength="26" lengthAdjust="spacingAndGlyphs" >SELL</text>
<text x="177.5" y="60" font-size="12.5" fill="#fff" stroke="#fff" stroke-width="0.3" textLength="23" lengthAdjust="spacingAndGlyphs" >BUY</text>
<rect x="51" y="44" width="112" height="22" fill="#a8a8a8" />
<rect x="52" y="45" width="110" height="20" fill="#fff" />
<rect x="53" y="46" width="19" height="18" fill="url(#gb)" />
<rect x="72" y="45" width="1" height="20" fill="#b4b4b4" />
<rect x="142" y="46" width="19" height="18" fill="url(#gb)" />
<rect x="141" y="45" width="1" height="20" fill="#b4b4b4" />
<polygon points="58.5,53 64.5,53 61.5,56.5" fill="#4a5fc8" shape-rendering="auto"/>
<polygon points="147.5,56 153.5,56 150.5,52.5" fill="#4a5fc8" shape-rendering="auto"/>
<text x="137" y="59" font-size="12" fill="#000" stroke="#000" stroke-width="0.3" textLength="23" lengthAdjust="spacingAndGlyphs" text-anchor="end" >1.00</text>
<text x="20.3" y="96" font-size="12.5" fill="#fff" stroke="#fff" stroke-width="0.3" textLength="20.5" lengthAdjust="spacingAndGlyphs" font-weight="bold" >110</text>
<text x="44.3" y="96.3" font-size="32.4" fill="#fff" stroke="#fff" stroke-width="0.9" textLength="34.5" lengthAdjust="spacingAndGlyphs" font-family='"DejaVu Sans Light","DejaVu Sans ExtraLight","Liberation Serif",serif' >07</text>
<text x="84" y="80.2" font-size="12" fill="#fff" stroke="#fff" stroke-width="0.3" textLength="7" lengthAdjust="spacingAndGlyphs" font-weight="bold" >6</text>
<text x="130.4" y="96" font-size="12.5" fill="#fff" stroke="#fff" stroke-width="0.3" textLength="20.5" lengthAdjust="spacingAndGlyphs" font-weight="bold" >110</text>
<text x="156.5" y="96.3" font-size="32.4" fill="#fff" stroke="#fff" stroke-width="0.9" textLength="33" lengthAdjust="spacingAndGlyphs" font-family='"DejaVu Sans Light","DejaVu Sans ExtraLight","Liberation Serif",serif' >10</text>
<text x="195" y="80.2" font-size="12" fill="#fff" stroke="#fff" stroke-width="0.3" textLength="7" lengthAdjust="spacingAndGlyphs" font-weight="bold" >0</text>
<g shape-rendering="auto">
<rect x="0" y="0" width="1699" height="20" fill="#f0f0f0" />
<rect x="0" y="20" width="1698" height="1" fill="#a9a9a9" shape-rendering="crispEdges"/>
<rect x="0" y="21" width="1698" height="1" fill="#6e6e6e" shape-rendering="crispEdges"/>
<circle cx="-3.2" cy="7.5" r="4.6" fill="#cfe0f5" stroke="#6f9fd8" stroke-width="1.4"/><line x1="0.3" y1="11.3" x2="4.8" y2="16" stroke="#c8a040" stroke-width="2.6"/>
<rect x="13" y="0" width="1" height="17" fill="#a0a0a0" />
<path d="M23.6,0.5 h8.2 l3,3 v10 h-11.2 z" fill="#fcfcfc" stroke="#8a8a8a" stroke-width="0.9"/><rect x="25.3" y="2" width="3" height="1.2" fill="#777"/><rect x="25.3" y="5.6" width="6.5" height="0.9" fill="#999"/><rect x="25.3" y="8.2" width="4" height="0.9" fill="#999"/>
<path d="M31.4,6.6 h3.6 v3.7 h3.8 v3.6 h-3.8 v3.7 h-3.6 v-3.7 h-3.8 v-3.6 h3.8 z" fill="#22cc22" stroke="#0a8a0a" stroke-width="0.8"/>
<text x="42" y="12" font-size="12" fill="#000" stroke="#000" stroke-width="0.3" textLength="36" lengthAdjust="spacingAndGlyphs" >新订单</text>
<polygon points="90,10 97,1 106,6 106,9 98,16 90,12" fill="#d9a520" stroke="#a87810" stroke-width="0.8"/><polygon points="92,10 98,2.5 104,6 98,13" fill="#f4cf58"/>
<rect x="121" y="-1" width="10" height="10" fill="#3e8ee0" stroke="#2a6cc0" stroke-width="0.6"/><rect x="124" y="2" width="5" height="1.2" fill="#d8e8fa"/><ellipse cx="126" cy="12" rx="8" ry="3.8" fill="#e4ecf8" stroke="#7d9fd0" stroke-width="0.9"/><circle cx="124" cy="9.5" r="3" fill="#e8f0fa" stroke="#8fb0dc" stroke-width="0.6"/>
<circle cx="154" cy="7" r="7.5" fill="none" stroke="#a8c6e8" stroke-width="1.3"/><circle cx="154" cy="7" r="4.5" fill="none" stroke="#7aa8dc" stroke-width="1.3"/><path d="M154,15.5 a8,8 0 0 0 7,-6" fill="none" stroke="#58b058" stroke-width="2"/><circle cx="154" cy="7" r="1.6" fill="#3a78c8"/><rect x="153.3" y="7" width="1.6" height="8" fill="#4ca84c"/>
<ellipse cx="181" cy="3.5" rx="7.5" ry="3" fill="#5aa0e0" stroke="#3a78b8" stroke-width="0.6"/><polygon points="174,6 188,6 184,14 178,14" fill="#f0d060" stroke="#c8a030" stroke-width="0.6"/><circle cx="185.5" cy="11.5" r="4" fill="#e03020"/><rect x="184" y="10" width="3" height="3" fill="#fff"/>
<text x="194" y="12" font-size="12" fill="#000" stroke="#000" stroke-width="0.3" textLength="48" lengthAdjust="spacingAndGlyphs" >自动交易</text>
<rect x="249" y="0" width="1" height="18" fill="#b4b4b4" />
<rect x="253" y="1" width="3" height="1" fill="#b8b8b8" />
<rect x="253" y="3" width="3" height="1" fill="#b8b8b8" />
<rect x="253" y="5" width="3" height="1" fill="#b8b8b8" />
<rect x="253" y="7" width="3" height="1" fill="#b8b8b8" />
<rect x="253" y="9" width="3" height="1" fill="#b8b8b8" />
<rect x="253" y="11" width="3" height="1" fill="#b8b8b8" />
<rect x="253" y="13" width="3" height="1" fill="#b8b8b8" />
<rect x="253" y="15" width="3" height="1" fill="#b8b8b8" />
<path d="M267.5,2.5 v13 M265,13.9 h13" stroke="#4a4a4a" stroke-width="1.2" fill="none"/>
<polygon points="267.5,0.8 265.7,3.6 269.3,3.6" fill="#4a4a4a"/><polygon points="279.3,13.9 276.5,12.1 276.5,15.7" fill="#4a4a4a"/>
<path d="M274,4.2 v7 M274,4.7 h2.3 M271.6,10.8 h2.4" stroke="#1f9a1f" stroke-width="1.3" fill="none"/>
<rect x="288" y="0" width="24" height="18" fill="#f8f8f8" />
<rect x="287" y="0" width="1" height="18" fill="#a0a0a0" />
<path d="M295.5,2.5 v13 M293,13.9 h13" stroke="#4a4a4a" stroke-width="1.2" fill="none"/>
<polygon points="295.5,0.8 293.7,3.6 297.3,3.6" fill="#4a4a4a"/><polygon points="307.3,13.9 304.5,12.1 304.5,15.7" fill="#4a4a4a"/>
<path d="M301.5,0 v11.5" stroke="#157015" stroke-width="1.1"/><rect x="299.4" y="2.7" width="4.4" height="6.6" fill="#35d035" stroke="#138a13" stroke-width="0.9"/>
<path d="M323.5,2.5 v13 M321,13.9 h13" stroke="#4a4a4a" stroke-width="1.2" fill="none"/>
<polygon points="323.5,0.8 321.7,3.6 325.3,3.6" fill="#4a4a4a"/><polygon points="335.3,13.9 332.5,12.1 332.5,15.7" fill="#4a4a4a"/>
<path d="M322.5,10.5 C325,7 327,5 328.5,5 C330,5 332,7.5 333.6,9" stroke="#2a9a2a" stroke-width="1.2" fill="none"/>
<rect x="344" y="0" width="1" height="17" fill="#a0a0a0" />
<line x1="363" y1="10" x2="368" y2="15" stroke="#c9a227" stroke-width="2.8"/><line x1="363.3" y1="9.4" x2="368.2" y2="14.3" stroke="#f0dc7a" stroke-width="0.9"/>
<circle cx="359" cy="5.8" r="5.3" fill="#dcebfa" stroke="#2f7fd0" stroke-width="1.5"/>
<path d="M356,5.8 h6 M359,2.8 v6" stroke="#2f74c0" stroke-width="1.7" fill="none"/>
<line x1="391.4" y1="10" x2="396.4" y2="15" stroke="#c9a227" stroke-width="2.8"/><line x1="391.7" y1="9.4" x2="396.59999999999997" y2="14.3" stroke="#f0dc7a" stroke-width="0.9"/>
<circle cx="387.4" cy="5.8" r="5.3" fill="#dcebfa" stroke="#2f7fd0" stroke-width="1.5"/>
<path d="M384.4,5.8 h6" stroke="#2f74c0" stroke-width="1.7" fill="none"/>
<rect x="409" y="0" width="7.8" height="7.6" fill="#3c9a28"/><rect x="410.3" y="3" width="5.2" height="3.2" fill="#f4f8f4"/><rect x="411" y="4.2" width="3.8" height="0.9" fill="#3c9a28"/>
<rect x="417.2" y="0" width="7.8" height="7.6" fill="#2a56c8"/><rect x="418.5" y="3" width="5.2" height="3.2" fill="#f4f8f4"/><rect x="419.2" y="4.2" width="3.8" height="0.9" fill="#2a56c8"/>
<rect x="409" y="8" width="7.8" height="7.6" fill="#2a56c8"/><rect x="410.3" y="11" width="5.2" height="3.2" fill="#f4f8f4"/><rect x="411" y="12.2" width="3.8" height="0.9" fill="#2a56c8"/>
<rect x="417.2" y="8" width="7.8" height="7.6" fill="#3c9a28"/><rect x="418.5" y="11" width="5.2" height="3.2" fill="#f4f8f4"/><rect x="419.2" y="12.2" width="3.8" height="0.9" fill="#3c9a28"/>
<rect x="434" y="0" width="1" height="17" fill="#a0a0a0" />
<rect x="439" y="0" width="25" height="18" fill="#f8f8f8" />
<rect x="439" y="0" width="1" height="18" fill="#a0a0a0" />
<path d="M447.5,2.5 v13 M445,13.9 h13" stroke="#4a4a4a" stroke-width="1.2" fill="none"/>
<polygon points="447.5,0.8 445.7,3.6 449.3,3.6" fill="#4a4a4a"/><polygon points="459.3,13.9 456.5,12.1 456.5,15.7" fill="#4a4a4a"/>
<polygon points="452.3,4 456.6,7.5 452.3,11" fill="#7be07b" stroke="#1f9a1f" stroke-width="1"/>
<rect x="467" y="0" width="25" height="18" fill="#f8f8f8" />
<rect x="467" y="0" width="1" height="18" fill="#a0a0a0" />
<path d="M475.5,2.5 v13 M473,13.9 h13" stroke="#4a4a4a" stroke-width="1.2" fill="none"/>
<polygon points="475.5,0.8 473.7,3.6 477.3,3.6" fill="#4a4a4a"/><polygon points="487.3,13.9 484.5,12.1 484.5,15.7" fill="#4a4a4a"/>
<path d="M481.5,2 v10.5" stroke="#2a6cb8" stroke-width="1.2"/><path d="M482.5,7.5 h4.8 M485.5,5 l-2.6,2.5 l2.6,2.5" stroke="#e04a10" stroke-width="1.1" fill="none"/>
<rect x="496" y="0" width="1" height="17" fill="#a0a0a0" />
<path d="M507,1.5 h7.5 l3,3 v8.5 h-10.5 z" fill="#fcfcfc" stroke="#7a7a7a" stroke-width="0.9"/><path d="M510,4.5 v6 M510,6.5 h3" stroke="#888" stroke-width="0.8" fill="none"/><path d="M514,6.5 h4 v3.8 h3.8 v4 h-3.8 v3.8 h-4 v-3.8 h-3.8 v-4 h3.8 z" fill="#22cc22" stroke="#0a8a0a" stroke-width="0.8"/>
<polygon points="528.0,7.5 533.0,7.5 530.5,10.5" fill="#000"/>
<circle cx="552" cy="8" r="7.6" fill="#1e6ad8" stroke="#1450a8" stroke-width="0.8"/><circle cx="552" cy="8" r="5.2" fill="#eef4ff"/><path d="M552,4.6 v3.6 h3" stroke="#333" stroke-width="1" fill="none"/>
<polygon points="567.0,7.5 572.0,7.5 569.5,10.5" fill="#000"/>
<rect x="583.6" y="1.6" width="15" height="12.8" fill="#f6f9ff" stroke="#2f6fd0" stroke-width="1.3"/><rect x="584" y="2" width="14.2" height="1.6" fill="#5a90e0"/><path d="M585.5,7.3 l3,-1 l2,-0.8 l3,0.5 l3,-1.2" stroke="#c03010" stroke-width="1" fill="none"/><path d="M584,9.2 h14.2" stroke="#9ab8e8" stroke-width="0.6"/><path d="M585.5,12.3 l3,-1 l2,0.8 l3,-1.6 l3,1.4" stroke="#2a9a2a" stroke-width="1" fill="none"/>
<polygon points="606.0,7.5 611.0,7.5 608.5,10.5" fill="#000"/>
<rect x="617" y="0" width="1" height="17" fill="#a0a0a0" />
<rect x="621" y="1" width="3" height="1" fill="#b8b8b8" />
<rect x="621" y="3" width="3" height="1" fill="#b8b8b8" />
<rect x="621" y="5" width="3" height="1" fill="#b8b8b8" />
<rect x="621" y="7" width="3" height="1" fill="#b8b8b8" />
<rect x="621" y="9" width="3" height="1" fill="#b8b8b8" />
<rect x="621" y="11" width="3" height="1" fill="#b8b8b8" />
<rect x="621" y="13" width="3" height="1" fill="#b8b8b8" />
<rect x="621" y="15" width="3" height="1" fill="#b8b8b8" />
<rect x="627" y="0" width="26" height="18" fill="#f9f9f9" />
<rect x="627" y="0" width="1" height="18" fill="#a0a0a0" />
<polygon points="635,1 635,13 638,10.5 640.5,15.5 642.5,14.5 640,9.8 644,9.5" fill="#333"/>
<path d="M667.5,2 v13 M661,8.5 h13" stroke="#555" stroke-width="1" fill="none"/>
<rect x="684" y="0" width="1" height="17" fill="#a0a0a0" />
<path d="M701.5,2 v12" stroke="#555" stroke-width="1"/><path d="M724,8.5 h12" stroke="#555" stroke-width="1"/><path d="M752,15 l12,-12" stroke="#555" stroke-width="1"/>
<path d="M778,13 l13,-10 M781,16 l11,-9 M783,5 v10 M786.5,3 v10 M790,1 v10" stroke="#555" stroke-width="0.9" fill="none"/>
<text x="789" y="17" font-size="6.5" fill="#333" stroke="#333" stroke-width="0.3" font-weight="bold" >E</text>
<line x1="807" y1="1.5" x2="820" y2="1.5" stroke="#666" stroke-width="1" stroke-dasharray="1,1"/>
<line x1="807" y1="4.5" x2="820" y2="4.5" stroke="#666" stroke-width="1" stroke-dasharray="1,1"/>
<line x1="807" y1="8.5" x2="820" y2="8.5" stroke="#666" stroke-width="1" stroke-dasharray="1,1"/>
<line x1="807" y1="12.5" x2="820" y2="12.5" stroke="#666" stroke-width="1" stroke-dasharray="1,1"/>
<text x="816" y="17" font-size="6.5" fill="#333" stroke="#333" stroke-width="0.3" font-weight="bold" >F</text>
<text x="837.5" y="13" font-size="12.5" fill="#555" stroke="#555" stroke-width="0.3" textLength="8.2" lengthAdjust="spacingAndGlyphs" >A</text>
<rect x="863.5" y="1.5" width="12" height="13" fill="none" stroke="#777" stroke-width="1" stroke-dasharray="1,1"/>
<text x="865.5" y="13" font-size="11.5" fill="#444" stroke="#444" stroke-width="0.3" textLength="8" lengthAdjust="spacingAndGlyphs" >T</text>
<polygon points="891.5,4.5 895,1.5 898.5,4.5 895,7" fill="#444"/><polygon points="898.5,11.5 902,9 905.5,11.5 902,15" fill="#444"/><path d="M893.5,9 l2,2.3 l4.5,-5" stroke="#444" stroke-width="1.2" fill="none"/>
<polygon points="912.0,7.5 917.0,7.5 914.5,10.5" fill="#000"/>
<rect x="923" y="0" width="1" height="20" fill="#8c8c8c" />
<rect x="927" y="1" width="3" height="1" fill="#b8b8b8" />
<rect x="927" y="3" width="3" height="1" fill="#b8b8b8" />
<rect x="927" y="5" width="3" height="1" fill="#b8b8b8" />
<rect x="927" y="7" width="3" height="1" fill="#b8b8b8" />
<rect x="927" y="9" width="3" height="1" fill="#b8b8b8" />
<rect x="927" y="11" width="3" height="1" fill="#b8b8b8" />
<rect x="927" y="13" width="3" height="1" fill="#b8b8b8" />
<rect x="927" y="15" width="3" height="1" fill="#b8b8b8" />
<rect x="1073" y="0" width="25" height="18" fill="#f9f9f9" />
<rect x="1073" y="0" width="1" height="18" fill="#a0a0a0" />
<text x="938" y="12" font-size="10.5" fill="#404040" stroke="#404040" stroke-width="0.1" textLength="13.5" lengthAdjust="spacingAndGlyphs" >M1</text>
<text x="966" y="12" font-size="10.5" fill="#404040" stroke="#404040" stroke-width="0.1" textLength="13.5" lengthAdjust="spacingAndGlyphs" >M5</text>
<text x="992" y="12" font-size="10.5" fill="#404040" stroke="#404040" stroke-width="0.1" textLength="18.5" lengthAdjust="spacingAndGlyphs" >M15</text>
<text x="1020" y="12" font-size="10.5" fill="#404040" stroke="#404040" stroke-width="0.1" textLength="18.5" lengthAdjust="spacingAndGlyphs" >M30</text>
<text x="1051" y="12" font-size="10.5" fill="#404040" stroke="#404040" stroke-width="0.1" textLength="12.5" lengthAdjust="spacingAndGlyphs" >H1</text>
<text x="1078.5" y="12" font-size="10.5" fill="#404040" stroke="#404040" stroke-width="0.1" textLength="13" lengthAdjust="spacingAndGlyphs" >H4</text>
<text x="1107" y="12" font-size="10.5" fill="#404040" stroke="#404040" stroke-width="0.1" textLength="12.5" lengthAdjust="spacingAndGlyphs" >D1</text>
<text x="1135" y="12" font-size="10.5" fill="#404040" stroke="#404040" stroke-width="0.1" textLength="15" lengthAdjust="spacingAndGlyphs" >W1</text>
<text x="1161" y="12" font-size="10.5" fill="#404040" stroke="#404040" stroke-width="0.1" textLength="16" lengthAdjust="spacingAndGlyphs" >MN</text>
<rect x="1184" y="0" width="1" height="20" fill="#a0a0a0" />
<line x1="1648" y1="12" x2="1654" y2="6" stroke="#2a5cc8" stroke-width="2.6" stroke-linecap="round"/><circle cx="1655" cy="4.5" r="4" fill="#f4f8ff" stroke="#2a5cc8" stroke-width="1.4"/>
<ellipse cx="1678" cy="10" rx="6.5" ry="4.5" fill="#e4e6ee" stroke="#b8b8c0" stroke-width="0.8"/><polygon points="1674,13 1673.5,16.5 1678,14" fill="#b0b0b8"/>
<circle cx="1685.5" cy="5" r="8.5" fill="#e03a20"/>
<text x="1682" y="9.5" font-size="12" fill="#fff" stroke="#fff" stroke-width="0.3" textLength="6" lengthAdjust="spacingAndGlyphs" >1</text>
</g>
</svg>
</body></html>
